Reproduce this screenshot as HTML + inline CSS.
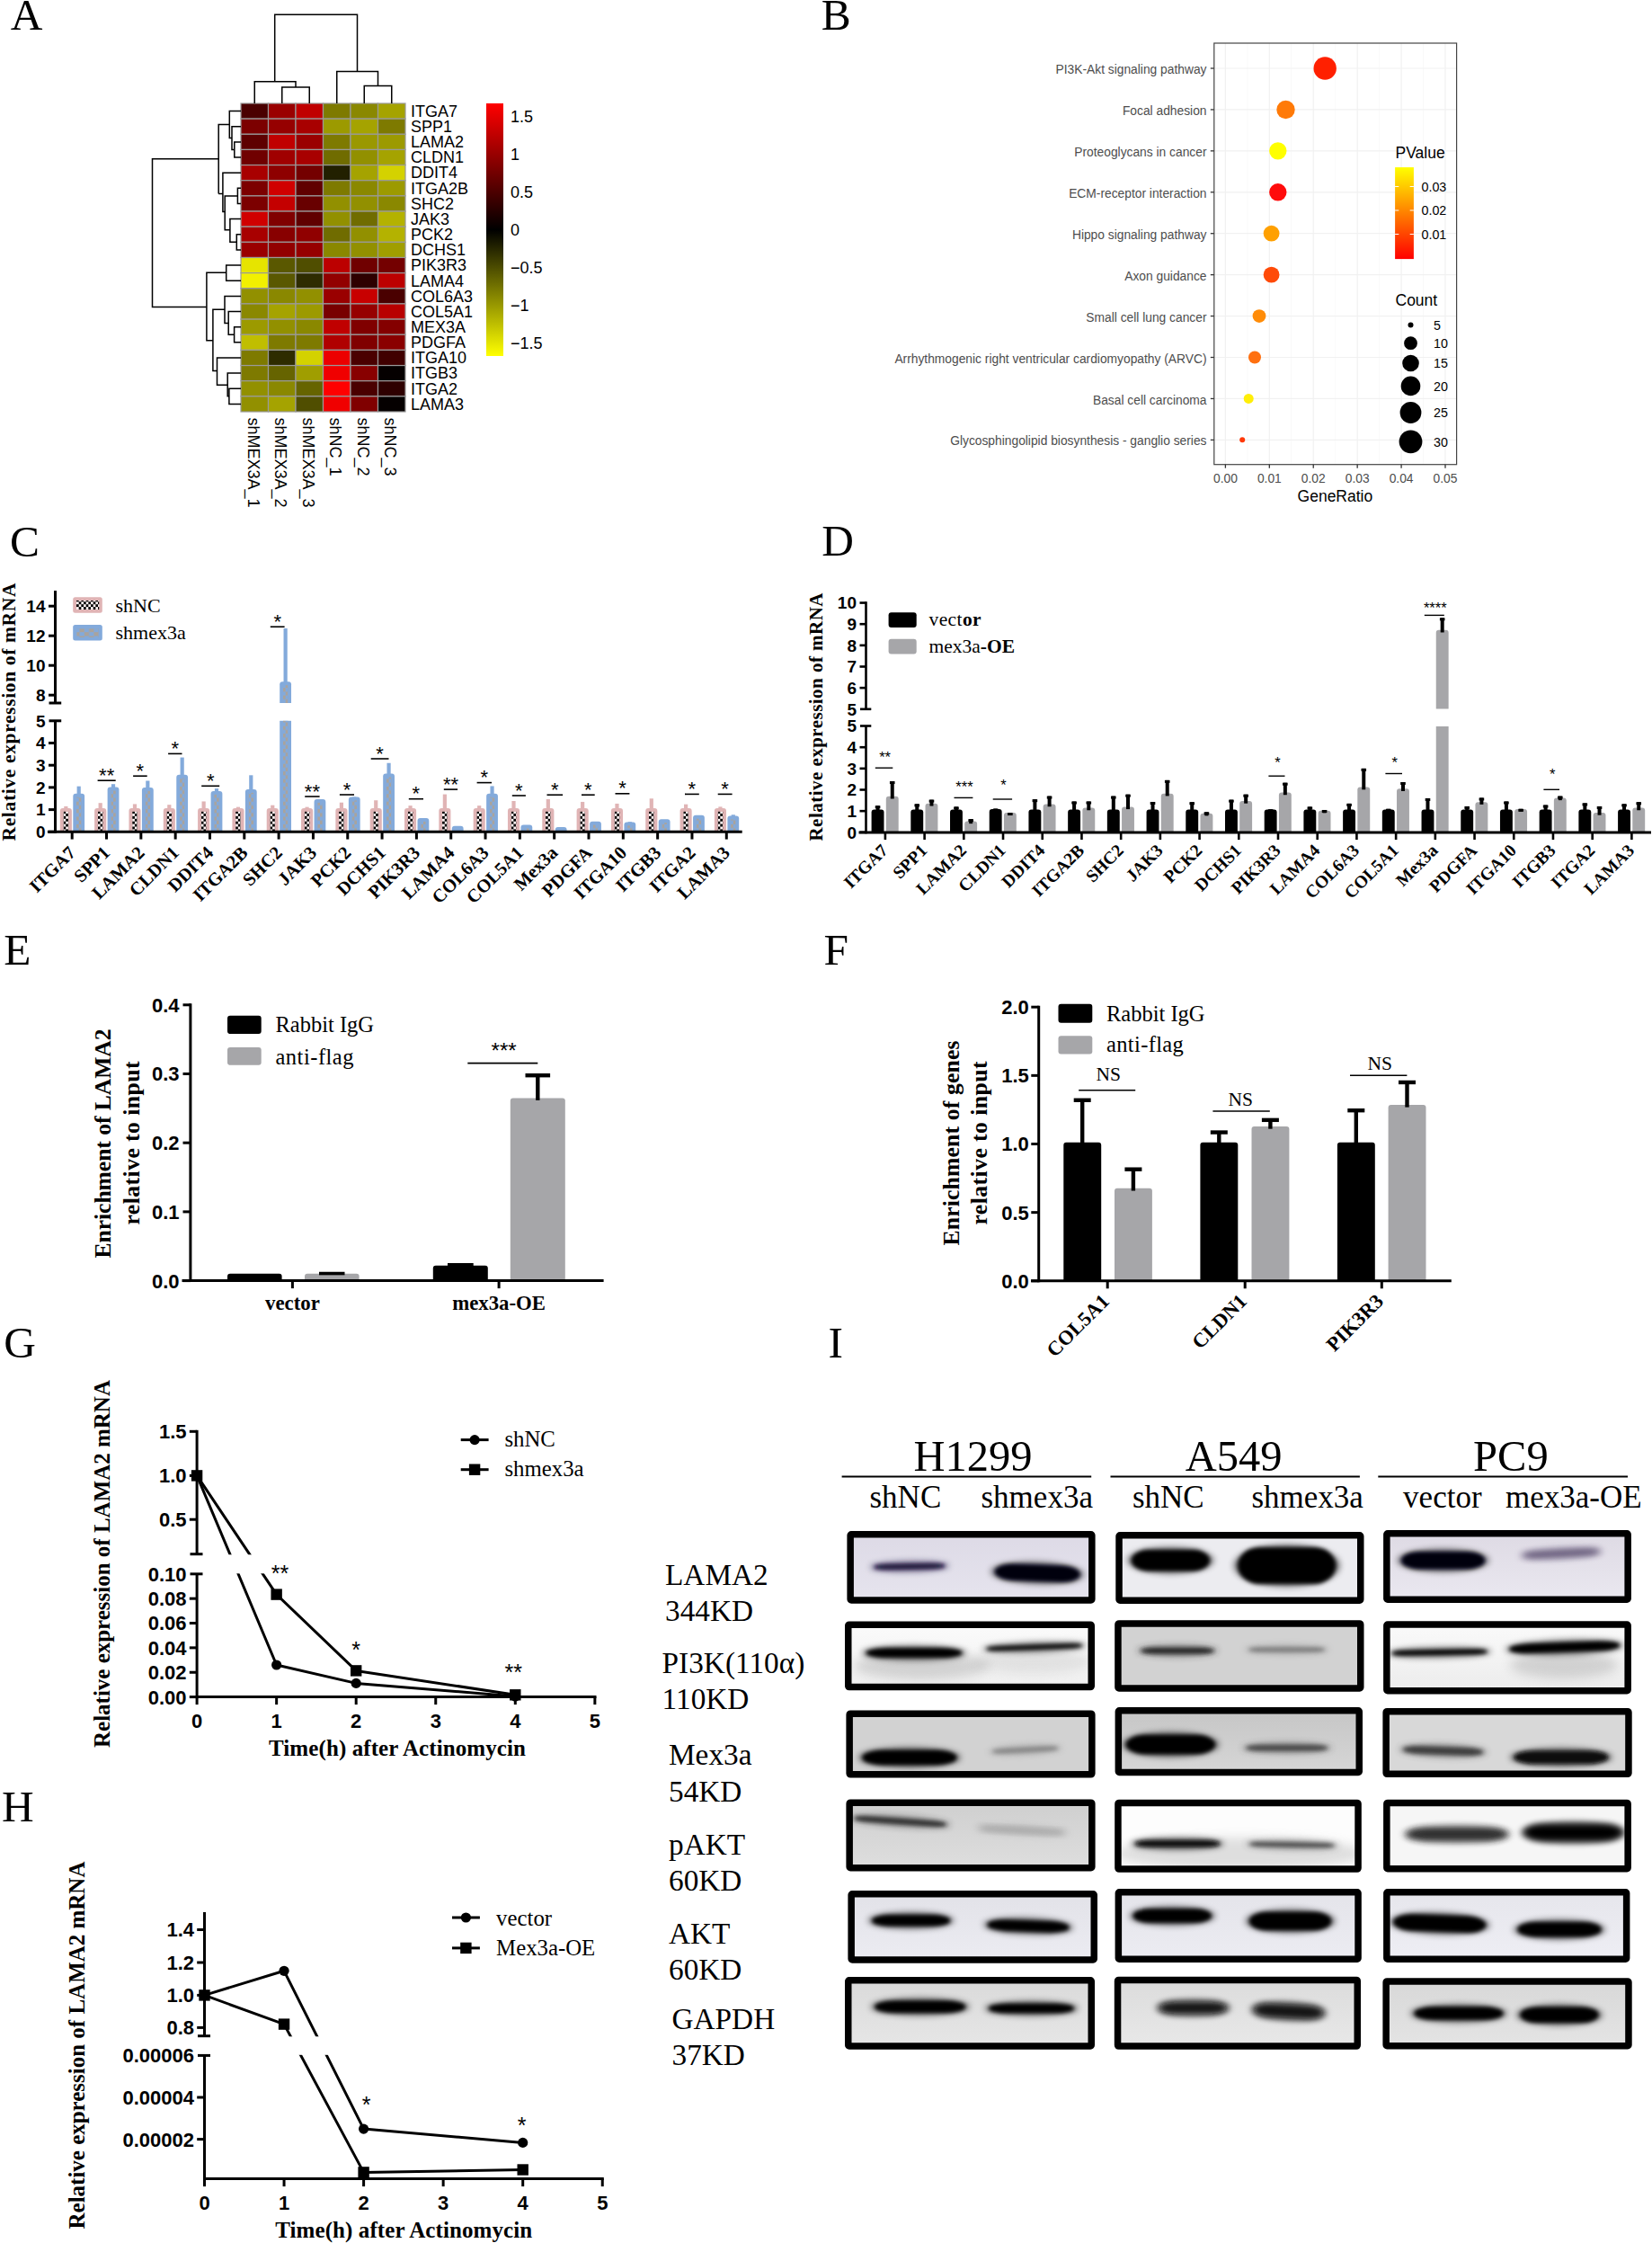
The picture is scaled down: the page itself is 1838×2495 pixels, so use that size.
<!DOCTYPE html>
<html lang="en"><head><meta charset="utf-8"><title>Figure</title>
<style>html,body{margin:0;padding:0;background:#fff}svg{display:block}.s{font-family:'Liberation Sans', sans-serif}.r{font-family:'Liberation Serif', serif}.b{font-weight:bold}</style></head>
<body>
<svg width="1838" height="2495" viewBox="0 0 1838 2495">
<defs>
<linearGradient id="gA" x1="0" y1="0" x2="0" y2="1"><stop offset="0" stop-color="#ff0000"/><stop offset="0.5" stop-color="#000"/><stop offset="1" stop-color="#ffff00"/></linearGradient>
<linearGradient id="gB" x1="0" y1="0" x2="0" y2="1"><stop offset="0" stop-color="#ffff00"/><stop offset="1" stop-color="#ff0000"/></linearGradient>
<pattern id="pk" width="5.34" height="5.8" patternUnits="userSpaceOnUse"><rect width="5.34" height="5.8" fill="#fff4f4"/><rect width="2.67" height="2.9" fill="#000"/><rect x="2.67" y="2.9" width="2.67" height="2.9" fill="#000"/></pattern>
<pattern id="bl" width="5.5" height="8.4" patternUnits="userSpaceOnUse"><rect width="5.5" height="8.4" fill="#83aadb"/><rect width="2.75" height="4.2" fill="#a9a39d"/><rect x="2.75" y="4.2" width="2.75" height="4.2" fill="#a9a39d"/></pattern>
<pattern id="bl2" width="10.6" height="8.4" patternUnits="userSpaceOnUse"><rect width="10.6" height="8.4" fill="#83aadb"/><rect width="5.3" height="4.2" fill="#a9a39d"/><rect x="5.3" y="4.2" width="5.3" height="4.2" fill="#a9a39d"/></pattern>
<filter id="gb1" x="-30%" y="-100%" width="160%" height="300%"><feGaussianBlur stdDeviation="1.3"/></filter>
<filter id="gb2" x="-30%" y="-100%" width="160%" height="300%"><feGaussianBlur stdDeviation="2.0"/></filter>
<filter id="gb3" x="-30%" y="-100%" width="160%" height="300%"><feGaussianBlur stdDeviation="3.6"/></filter>
<filter id="gb4" x="-30%" y="-100%" width="160%" height="300%"><feGaussianBlur stdDeviation="6"/></filter>
<clipPath id="cb1"><rect x="946.15" y="1706.75" width="268.7" height="73.2"/></clipPath>
<linearGradient id="lb1" x1="0" y1="0" x2="0" y2="1"><stop offset="0" stop-color="#dddae6"/><stop offset="1" stop-color="#e6e4ee"/></linearGradient>
<clipPath id="cb2"><rect x="943.75" y="1807.15" width="270.5" height="69.4"/></clipPath>
<linearGradient id="lb2" x1="0" y1="0" x2="0" y2="1"><stop offset="0" stop-color="#fbfbfb"/><stop offset="1" stop-color="#efefef"/></linearGradient>
<clipPath id="cb3"><rect x="945.15" y="1906.15" width="269.7" height="67.7"/></clipPath>
<clipPath id="cb4"><rect x="945.15" y="2005.15" width="269.7" height="72.5"/></clipPath>
<linearGradient id="lb4" x1="0" y1="0" x2="0" y2="1"><stop offset="0" stop-color="#cfcfcf"/><stop offset="1" stop-color="#dedede"/></linearGradient>
<clipPath id="cb5"><rect x="947.15" y="2106.75" width="270.1" height="73.2"/></clipPath>
<linearGradient id="lb5" x1="0" y1="0" x2="0" y2="1"><stop offset="0" stop-color="#e2e2e8"/><stop offset="1" stop-color="#ececf2"/></linearGradient>
<clipPath id="cb6"><rect x="943.75" y="2202.75" width="270.5" height="73.2"/></clipPath>
<linearGradient id="lb6" x1="0" y1="0" x2="0" y2="1"><stop offset="0" stop-color="#dadada"/><stop offset="1" stop-color="#e6e6e6"/></linearGradient>
<clipPath id="cb7"><rect x="1245.05" y="1707.75" width="268.7" height="72.5"/></clipPath>
<clipPath id="cb8"><rect x="1243.95" y="1805.95" width="269.8" height="72"/></clipPath>
<clipPath id="cb9"><rect x="1244.35" y="1902.75" width="267.9" height="68.7"/></clipPath>
<linearGradient id="lb9" x1="0" y1="0" x2="0" y2="1"><stop offset="0" stop-color="#c6c6c6"/><stop offset="1" stop-color="#d6d6d6"/></linearGradient>
<clipPath id="cb10"><rect x="1243.95" y="2005.45" width="267.1" height="73.6"/></clipPath>
<clipPath id="cb11"><rect x="1244.35" y="2104.75" width="266.7" height="74.4"/></clipPath>
<linearGradient id="lb11" x1="0" y1="0" x2="0" y2="1"><stop offset="0" stop-color="#e4e4ea"/><stop offset="1" stop-color="#ececf2"/></linearGradient>
<clipPath id="cb12"><rect x="1243.55" y="2202.45" width="266.7" height="73.6"/></clipPath>
<linearGradient id="lb12" x1="0" y1="0" x2="0" y2="1"><stop offset="0" stop-color="#dcdcdc"/><stop offset="1" stop-color="#e8e8e8"/></linearGradient>
<clipPath id="cb13"><rect x="1542.85" y="1705.85" width="268.3" height="73.3"/></clipPath>
<linearGradient id="lb13" x1="0" y1="0" x2="0" y2="1"><stop offset="0" stop-color="#dedae4"/><stop offset="1" stop-color="#eae8f0"/></linearGradient>
<clipPath id="cb14"><rect x="1542.85" y="1807.05" width="268.3" height="73.6"/></clipPath>
<linearGradient id="lb14" x1="0" y1="0" x2="0" y2="1"><stop offset="0" stop-color="#fafafa"/><stop offset="1" stop-color="#ececec"/></linearGradient>
<clipPath id="cb15"><rect x="1542.15" y="1903.65" width="269.8" height="69.7"/></clipPath>
<clipPath id="cb16"><rect x="1542.85" y="2005.45" width="268.3" height="73.2"/></clipPath>
<clipPath id="cb17"><rect x="1542.85" y="2104.75" width="266.8" height="74.4"/></clipPath>
<linearGradient id="lb17" x1="0" y1="0" x2="0" y2="1"><stop offset="0" stop-color="#e6e6ec"/><stop offset="1" stop-color="#eeeef4"/></linearGradient>
<clipPath id="cb18"><rect x="1542.15" y="2203.95" width="269.8" height="71.7"/></clipPath>
<linearGradient id="lb18" x1="0" y1="0" x2="0" y2="1"><stop offset="0" stop-color="#d8d8d8"/><stop offset="1" stop-color="#e4e4e4"/></linearGradient>
</defs>
<rect width="1838" height="2495" fill="#fff"/>
<text class="r" x="11.7" y="33" font-size="49.4">A</text>
<text class="r" x="913.7" y="33.3" font-size="49.4">B</text>
<text class="r" x="10.9" y="618.7" font-size="49.4">C</text>
<text class="r" x="914.2" y="617.9" font-size="49.4">D</text>
<text class="r" x="4.2" y="1072.6" font-size="49.4">E</text>
<text class="r" x="916.4" y="1072.6" font-size="49.4">F</text>
<text class="r" x="4.2" y="1510.1" font-size="49.4">G</text>
<text class="r" x="921.6" y="1510" font-size="49.4">I</text>
<text class="r" x="1.9" y="2025.7" font-size="49.4">H</text>
<g stroke="#9a9a9a" stroke-width="1.2">
<rect x="268" y="115" width="30.5" height="17.15" fill="#4a0000"/>
<rect x="298.5" y="115" width="30.5" height="17.15" fill="#9a0000"/>
<rect x="329" y="115" width="30.5" height="17.15" fill="#c00000"/>
<rect x="359.5" y="115" width="30.5" height="17.15" fill="#7e7a00"/>
<rect x="390" y="115" width="30.5" height="17.15" fill="#8a8800"/>
<rect x="420.5" y="115" width="30.5" height="17.15" fill="#a5a300"/>
<rect x="268" y="132.15" width="30.5" height="17.15" fill="#7c0000"/>
<rect x="298.5" y="132.15" width="30.5" height="17.15" fill="#960000"/>
<rect x="329" y="132.15" width="30.5" height="17.15" fill="#a80000"/>
<rect x="359.5" y="132.15" width="30.5" height="17.15" fill="#9c9a00"/>
<rect x="390" y="132.15" width="30.5" height="17.15" fill="#a5a300"/>
<rect x="420.5" y="132.15" width="30.5" height="17.15" fill="#7e7a00"/>
<rect x="268" y="149.3" width="30.5" height="17.15" fill="#5e0000"/>
<rect x="298.5" y="149.3" width="30.5" height="17.15" fill="#c00000"/>
<rect x="329" y="149.3" width="30.5" height="17.15" fill="#9a0000"/>
<rect x="359.5" y="149.3" width="30.5" height="17.15" fill="#7e7a00"/>
<rect x="390" y="149.3" width="30.5" height="17.15" fill="#9a9800"/>
<rect x="420.5" y="149.3" width="30.5" height="17.15" fill="#9c9a00"/>
<rect x="268" y="166.45" width="30.5" height="17.15" fill="#700000"/>
<rect x="298.5" y="166.45" width="30.5" height="17.15" fill="#a00000"/>
<rect x="329" y="166.45" width="30.5" height="17.15" fill="#a80000"/>
<rect x="359.5" y="166.45" width="30.5" height="17.15" fill="#706c00"/>
<rect x="390" y="166.45" width="30.5" height="17.15" fill="#929000"/>
<rect x="420.5" y="166.45" width="30.5" height="17.15" fill="#a5a300"/>
<rect x="268" y="183.6" width="30.5" height="17.15" fill="#a80000"/>
<rect x="298.5" y="183.6" width="30.5" height="17.15" fill="#8e0000"/>
<rect x="329" y="183.6" width="30.5" height="17.15" fill="#740000"/>
<rect x="359.5" y="183.6" width="30.5" height="17.15" fill="#222000"/>
<rect x="390" y="183.6" width="30.5" height="17.15" fill="#a5a300"/>
<rect x="420.5" y="183.6" width="30.5" height="17.15" fill="#d4d200"/>
<rect x="268" y="200.75" width="30.5" height="17.15" fill="#7c0000"/>
<rect x="298.5" y="200.75" width="30.5" height="17.15" fill="#d00000"/>
<rect x="329" y="200.75" width="30.5" height="17.15" fill="#600000"/>
<rect x="359.5" y="200.75" width="30.5" height="17.15" fill="#7e7a00"/>
<rect x="390" y="200.75" width="30.5" height="17.15" fill="#8a8800"/>
<rect x="420.5" y="200.75" width="30.5" height="17.15" fill="#9c9a00"/>
<rect x="268" y="217.9" width="30.5" height="17.15" fill="#7c0000"/>
<rect x="298.5" y="217.9" width="30.5" height="17.15" fill="#c40000"/>
<rect x="329" y="217.9" width="30.5" height="17.15" fill="#680000"/>
<rect x="359.5" y="217.9" width="30.5" height="17.15" fill="#929000"/>
<rect x="390" y="217.9" width="30.5" height="17.15" fill="#929000"/>
<rect x="420.5" y="217.9" width="30.5" height="17.15" fill="#8a8800"/>
<rect x="268" y="235.05" width="30.5" height="17.15" fill="#d00000"/>
<rect x="298.5" y="235.05" width="30.5" height="17.15" fill="#800000"/>
<rect x="329" y="235.05" width="30.5" height="17.15" fill="#600000"/>
<rect x="359.5" y="235.05" width="30.5" height="17.15" fill="#929000"/>
<rect x="390" y="235.05" width="30.5" height="17.15" fill="#706c00"/>
<rect x="420.5" y="235.05" width="30.5" height="17.15" fill="#b4b200"/>
<rect x="268" y="252.2" width="30.5" height="17.15" fill="#a80000"/>
<rect x="298.5" y="252.2" width="30.5" height="17.15" fill="#880000"/>
<rect x="329" y="252.2" width="30.5" height="17.15" fill="#900000"/>
<rect x="359.5" y="252.2" width="30.5" height="17.15" fill="#706c00"/>
<rect x="390" y="252.2" width="30.5" height="17.15" fill="#929000"/>
<rect x="420.5" y="252.2" width="30.5" height="17.15" fill="#b4b200"/>
<rect x="268" y="269.35" width="30.5" height="17.15" fill="#9a0000"/>
<rect x="298.5" y="269.35" width="30.5" height="17.15" fill="#920000"/>
<rect x="329" y="269.35" width="30.5" height="17.15" fill="#960000"/>
<rect x="359.5" y="269.35" width="30.5" height="17.15" fill="#8a8800"/>
<rect x="390" y="269.35" width="30.5" height="17.15" fill="#929000"/>
<rect x="420.5" y="269.35" width="30.5" height="17.15" fill="#a09e00"/>
<rect x="268" y="286.5" width="30.5" height="17.15" fill="#e6e400"/>
<rect x="298.5" y="286.5" width="30.5" height="17.15" fill="#5a5800"/>
<rect x="329" y="286.5" width="30.5" height="17.15" fill="#504e00"/>
<rect x="359.5" y="286.5" width="30.5" height="17.15" fill="#bc0000"/>
<rect x="390" y="286.5" width="30.5" height="17.15" fill="#700000"/>
<rect x="420.5" y="286.5" width="30.5" height="17.15" fill="#740000"/>
<rect x="268" y="303.65" width="30.5" height="17.15" fill="#f2f000"/>
<rect x="298.5" y="303.65" width="30.5" height="17.15" fill="#5a5800"/>
<rect x="329" y="303.65" width="30.5" height="17.15" fill="#2e2c00"/>
<rect x="359.5" y="303.65" width="30.5" height="17.15" fill="#920000"/>
<rect x="390" y="303.65" width="30.5" height="17.15" fill="#2e0000"/>
<rect x="420.5" y="303.65" width="30.5" height="17.15" fill="#bc0000"/>
<rect x="268" y="320.8" width="30.5" height="17.15" fill="#929000"/>
<rect x="298.5" y="320.8" width="30.5" height="17.15" fill="#8a8800"/>
<rect x="329" y="320.8" width="30.5" height="17.15" fill="#929000"/>
<rect x="359.5" y="320.8" width="30.5" height="17.15" fill="#9a0000"/>
<rect x="390" y="320.8" width="30.5" height="17.15" fill="#c80000"/>
<rect x="420.5" y="320.8" width="30.5" height="17.15" fill="#4a0000"/>
<rect x="268" y="337.95" width="30.5" height="17.15" fill="#8a8800"/>
<rect x="298.5" y="337.95" width="30.5" height="17.15" fill="#a5a300"/>
<rect x="329" y="337.95" width="30.5" height="17.15" fill="#9c9a00"/>
<rect x="359.5" y="337.95" width="30.5" height="17.15" fill="#780000"/>
<rect x="390" y="337.95" width="30.5" height="17.15" fill="#960000"/>
<rect x="420.5" y="337.95" width="30.5" height="17.15" fill="#b80000"/>
<rect x="268" y="355.1" width="30.5" height="17.15" fill="#9c9a00"/>
<rect x="298.5" y="355.1" width="30.5" height="17.15" fill="#929000"/>
<rect x="329" y="355.1" width="30.5" height="17.15" fill="#8a8800"/>
<rect x="359.5" y="355.1" width="30.5" height="17.15" fill="#c00000"/>
<rect x="390" y="355.1" width="30.5" height="17.15" fill="#800000"/>
<rect x="420.5" y="355.1" width="30.5" height="17.15" fill="#840000"/>
<rect x="268" y="372.25" width="30.5" height="17.15" fill="#c0be00"/>
<rect x="298.5" y="372.25" width="30.5" height="17.15" fill="#7e7a00"/>
<rect x="329" y="372.25" width="30.5" height="17.15" fill="#7e7a00"/>
<rect x="359.5" y="372.25" width="30.5" height="17.15" fill="#b00000"/>
<rect x="390" y="372.25" width="30.5" height="17.15" fill="#800000"/>
<rect x="420.5" y="372.25" width="30.5" height="17.15" fill="#8a0000"/>
<rect x="268" y="389.4" width="30.5" height="17.15" fill="#7e7a00"/>
<rect x="298.5" y="389.4" width="30.5" height="17.15" fill="#2e2c00"/>
<rect x="329" y="389.4" width="30.5" height="17.15" fill="#d4d200"/>
<rect x="359.5" y="389.4" width="30.5" height="17.15" fill="#ec0000"/>
<rect x="390" y="389.4" width="30.5" height="17.15" fill="#4a0000"/>
<rect x="420.5" y="389.4" width="30.5" height="17.15" fill="#400000"/>
<rect x="268" y="406.55" width="30.5" height="17.15" fill="#7e7a00"/>
<rect x="298.5" y="406.55" width="30.5" height="17.15" fill="#666400"/>
<rect x="329" y="406.55" width="30.5" height="17.15" fill="#a09e00"/>
<rect x="359.5" y="406.55" width="30.5" height="17.15" fill="#f00000"/>
<rect x="390" y="406.55" width="30.5" height="17.15" fill="#880000"/>
<rect x="420.5" y="406.55" width="30.5" height="17.15" fill="#050000"/>
<rect x="268" y="423.7" width="30.5" height="17.15" fill="#929000"/>
<rect x="298.5" y="423.7" width="30.5" height="17.15" fill="#8a8800"/>
<rect x="329" y="423.7" width="30.5" height="17.15" fill="#666400"/>
<rect x="359.5" y="423.7" width="30.5" height="17.15" fill="#ff0000"/>
<rect x="390" y="423.7" width="30.5" height="17.15" fill="#4a0000"/>
<rect x="420.5" y="423.7" width="30.5" height="17.15" fill="#2e0000"/>
<rect x="268" y="440.85" width="30.5" height="17.15" fill="#929000"/>
<rect x="298.5" y="440.85" width="30.5" height="17.15" fill="#a5a300"/>
<rect x="329" y="440.85" width="30.5" height="17.15" fill="#504e00"/>
<rect x="359.5" y="440.85" width="30.5" height="17.15" fill="#f00000"/>
<rect x="390" y="440.85" width="30.5" height="17.15" fill="#800000"/>
<rect x="420.5" y="440.85" width="30.5" height="17.15" fill="#050000"/>
</g>
<text class="s" x="457.1" y="129.88" font-size="18">ITGA7</text>
<text class="s" x="457.1" y="147.03" font-size="18">SPP1</text>
<text class="s" x="457.1" y="164.18" font-size="18">LAMA2</text>
<text class="s" x="457.1" y="181.32" font-size="18">CLDN1</text>
<text class="s" x="457.1" y="198.48" font-size="18">DDIT4</text>
<text class="s" x="457.1" y="215.62" font-size="18">ITGA2B</text>
<text class="s" x="457.1" y="232.78" font-size="18">SHC2</text>
<text class="s" x="457.1" y="249.93" font-size="18">JAK3</text>
<text class="s" x="457.1" y="267.07" font-size="18">PCK2</text>
<text class="s" x="457.1" y="284.22" font-size="18">DCHS1</text>
<text class="s" x="457.1" y="301.38" font-size="18">PIK3R3</text>
<text class="s" x="457.1" y="318.53" font-size="18">LAMA4</text>
<text class="s" x="457.1" y="335.68" font-size="18">COL6A3</text>
<text class="s" x="457.1" y="352.82" font-size="18">COL5A1</text>
<text class="s" x="457.1" y="369.97" font-size="18">MEX3A</text>
<text class="s" x="457.1" y="387.12" font-size="18">PDGFA</text>
<text class="s" x="457.1" y="404.27" font-size="18">ITGA10</text>
<text class="s" x="457.1" y="421.43" font-size="18">ITGB3</text>
<text class="s" x="457.1" y="438.57" font-size="18">ITGA2</text>
<text class="s" x="457.1" y="455.72" font-size="18">LAMA3</text>
<text class="s" x="275.75" y="464.5" font-size="18" transform="rotate(90 275.75 464.5)">shMEX3A_1</text>
<text class="s" x="306.25" y="464.5" font-size="18" transform="rotate(90 306.25 464.5)">shMEX3A_2</text>
<text class="s" x="336.75" y="464.5" font-size="18" transform="rotate(90 336.75 464.5)">shMEX3A_3</text>
<text class="s" x="367.25" y="464.5" font-size="18" transform="rotate(90 367.25 464.5)">shNC_1</text>
<text class="s" x="397.75" y="464.5" font-size="18" transform="rotate(90 397.75 464.5)">shNC_2</text>
<text class="s" x="428.25" y="464.5" font-size="18" transform="rotate(90 428.25 464.5)">shNC_3</text>
<path d="M313.75 115V97H344.25V115" fill="none" stroke="#000" stroke-width="1.5"/>
<path d="M283.25 115V90.7H329V97" fill="none" stroke="#000" stroke-width="1.5"/>
<path d="M405.25 115V95.5H435.75V115" fill="none" stroke="#000" stroke-width="1.5"/>
<path d="M374.75 115V79.4H420.5V95.5" fill="none" stroke="#000" stroke-width="1.5"/>
<path d="M305.7 90.7V16.3H397.5V79.4" fill="none" stroke="#000" stroke-width="1.5"/>
<path d="M268 157.88H260.8V175.02H268" fill="none" stroke="#000" stroke-width="1.5"/>
<path d="M268 140.72H258V166.4H260.8" fill="none" stroke="#000" stroke-width="1.5"/>
<path d="M268 123.58H255.3V153.5H258" fill="none" stroke="#000" stroke-width="1.5"/>
<path d="M255.3 138.6H243.2V215.5" fill="none" stroke="#000" stroke-width="1.5"/>
<path d="M268 209.32H264.4V226.47H268" fill="none" stroke="#000" stroke-width="1.5"/>
<path d="M268 260.77H263.3V277.92H268" fill="none" stroke="#000" stroke-width="1.5"/>
<path d="M268 243.62H255.9V269.3H263.3" fill="none" stroke="#000" stroke-width="1.5"/>
<path d="M264.4 217.9H250.2V255.7H255.9" fill="none" stroke="#000" stroke-width="1.5"/>
<path d="M268 192.18H247.9V235.6H250.2" fill="none" stroke="#000" stroke-width="1.5"/>
<path d="M247.9 215.5H243.2" fill="none" stroke="#000" stroke-width="1.5"/>
<path d="M243.2 176.7H169.5V341.4H229.9" fill="none" stroke="#000" stroke-width="1.5"/>
<path d="M268 295.07H251.7V312.23H268" fill="none" stroke="#000" stroke-width="1.5"/>
<path d="M251.7 303.3H229.9V378.7H236.9" fill="none" stroke="#000" stroke-width="1.5"/>
<path d="M268 363.67H260.6V380.82H268" fill="none" stroke="#000" stroke-width="1.5"/>
<path d="M268 346.52H254.2V372.2H260.6" fill="none" stroke="#000" stroke-width="1.5"/>
<path d="M268 329.38H250V359.4H254.2" fill="none" stroke="#000" stroke-width="1.5"/>
<path d="M250 344.2H236.9V412.4H241.5" fill="none" stroke="#000" stroke-width="1.5"/>
<path d="M268 432.27H254.9V449.42H268" fill="none" stroke="#000" stroke-width="1.5"/>
<path d="M268 415.12H253.2V440.8H254.9" fill="none" stroke="#000" stroke-width="1.5"/>
<path d="M268 397.97H241.5V428.3H253.2" fill="none" stroke="#000" stroke-width="1.5"/>
<rect x="541" y="115" width="19" height="281" fill="url(#gA)"/>
<text class="s" x="568" y="136.45" font-size="18">1.5</text>
<text class="s" x="568" y="178.3" font-size="18">1</text>
<text class="s" x="568" y="220.15" font-size="18">0.5</text>
<text class="s" x="568" y="262" font-size="18">0</text>
<text class="s" x="568" y="303.85" font-size="18">−0.5</text>
<text class="s" x="568" y="345.7" font-size="18">−1</text>
<text class="s" x="568" y="387.55" font-size="18">−1.5</text>
<g stroke="#f8f8f8" stroke-width="0.8">
<line x1="1387.86" y1="48" x2="1387.86" y2="516.7"/>
<line x1="1436.78" y1="48" x2="1436.78" y2="516.7"/>
<line x1="1485.7" y1="48" x2="1485.7" y2="516.7"/>
<line x1="1534.62" y1="48" x2="1534.62" y2="516.7"/>
<line x1="1583.54" y1="48" x2="1583.54" y2="516.7"/>
</g><g stroke="#f1f1f1" stroke-width="1.2">
<line x1="1363.4" y1="48" x2="1363.4" y2="516.7"/>
<line x1="1412.32" y1="48" x2="1412.32" y2="516.7"/>
<line x1="1461.24" y1="48" x2="1461.24" y2="516.7"/>
<line x1="1510.16" y1="48" x2="1510.16" y2="516.7"/>
<line x1="1559.08" y1="48" x2="1559.08" y2="516.7"/>
<line x1="1608" y1="48" x2="1608" y2="516.7"/>
<line x1="1350.8" y1="76" x2="1620.6" y2="76"/>
<line x1="1350.8" y1="121.93" x2="1620.6" y2="121.93"/>
<line x1="1350.8" y1="167.86" x2="1620.6" y2="167.86"/>
<line x1="1350.8" y1="213.79" x2="1620.6" y2="213.79"/>
<line x1="1350.8" y1="259.72" x2="1620.6" y2="259.72"/>
<line x1="1350.8" y1="305.65" x2="1620.6" y2="305.65"/>
<line x1="1350.8" y1="351.58" x2="1620.6" y2="351.58"/>
<line x1="1350.8" y1="397.51" x2="1620.6" y2="397.51"/>
<line x1="1350.8" y1="443.44" x2="1620.6" y2="443.44"/>
<line x1="1350.8" y1="489.37" x2="1620.6" y2="489.37"/>
</g>
<rect x="1350.8" y="48" width="269.8" height="468.7" fill="none" stroke="#444" stroke-width="1.2"/>
<line x1="1346.8" y1="76" x2="1350.8" y2="76" stroke="#333" stroke-width="1.3"/>
<text class="s" x="1342.5" y="82.1" font-size="13.8" text-anchor="end" fill="#4d4d4d">PI3K-Akt signaling pathway</text>
<circle cx="1474.2" cy="76" r="12.7" fill="#ff2000"/>
<line x1="1346.8" y1="121.93" x2="1350.8" y2="121.93" stroke="#333" stroke-width="1.3"/>
<text class="s" x="1342.5" y="128.03" font-size="13.8" text-anchor="end" fill="#4d4d4d">Focal adhesion</text>
<circle cx="1430.5" cy="121.93" r="10.2" fill="#ff7a08"/>
<line x1="1346.8" y1="167.86" x2="1350.8" y2="167.86" stroke="#333" stroke-width="1.3"/>
<text class="s" x="1342.5" y="173.96" font-size="13.8" text-anchor="end" fill="#4d4d4d">Proteoglycans in cancer</text>
<circle cx="1421.8" cy="167.86" r="9.7" fill="#ffff00"/>
<line x1="1346.8" y1="213.79" x2="1350.8" y2="213.79" stroke="#333" stroke-width="1.3"/>
<text class="s" x="1342.5" y="219.89" font-size="13.8" text-anchor="end" fill="#4d4d4d">ECM-receptor interaction</text>
<circle cx="1421.8" cy="213.79" r="9.7" fill="#ff0c0c"/>
<line x1="1346.8" y1="259.72" x2="1350.8" y2="259.72" stroke="#333" stroke-width="1.3"/>
<text class="s" x="1342.5" y="265.82" font-size="13.8" text-anchor="end" fill="#4d4d4d">Hippo signaling pathway</text>
<circle cx="1414.6" cy="259.72" r="8.9" fill="#ffa000"/>
<line x1="1346.8" y1="305.65" x2="1350.8" y2="305.65" stroke="#333" stroke-width="1.3"/>
<text class="s" x="1342.5" y="311.75" font-size="13.8" text-anchor="end" fill="#4d4d4d">Axon guidance</text>
<circle cx="1414.6" cy="305.65" r="8.9" fill="#ff4a08"/>
<line x1="1346.8" y1="351.58" x2="1350.8" y2="351.58" stroke="#333" stroke-width="1.3"/>
<text class="s" x="1342.5" y="357.68" font-size="13.8" text-anchor="end" fill="#4d4d4d">Small cell lung cancer</text>
<circle cx="1401" cy="351.58" r="7.4" fill="#ff8c08"/>
<line x1="1346.8" y1="397.51" x2="1350.8" y2="397.51" stroke="#333" stroke-width="1.3"/>
<text class="s" x="1342.5" y="403.61" font-size="13.8" text-anchor="end" fill="#4d4d4d">Arrhythmogenic right ventricular cardiomyopathy (ARVC)</text>
<circle cx="1396" cy="397.51" r="7" fill="#ff7010"/>
<line x1="1346.8" y1="443.44" x2="1350.8" y2="443.44" stroke="#333" stroke-width="1.3"/>
<text class="s" x="1342.5" y="449.54" font-size="13.8" text-anchor="end" fill="#4d4d4d">Basal cell carcinoma</text>
<circle cx="1389.2" cy="443.44" r="5.5" fill="#ffee08"/>
<line x1="1346.8" y1="489.37" x2="1350.8" y2="489.37" stroke="#333" stroke-width="1.3"/>
<text class="s" x="1342.5" y="495.47" font-size="13.8" text-anchor="end" fill="#4d4d4d">Glycosphingolipid biosynthesis - ganglio series</text>
<circle cx="1382.2" cy="489.37" r="3" fill="#ff3808"/>
<line x1="1363.4" y1="516.7" x2="1363.4" y2="520.7" stroke="#333" stroke-width="1.3"/>
<text class="s" x="1363.4" y="537.3" font-size="13.8" text-anchor="middle" fill="#4d4d4d">0.00</text>
<line x1="1412.32" y1="516.7" x2="1412.32" y2="520.7" stroke="#333" stroke-width="1.3"/>
<text class="s" x="1412.32" y="537.3" font-size="13.8" text-anchor="middle" fill="#4d4d4d">0.01</text>
<line x1="1461.24" y1="516.7" x2="1461.24" y2="520.7" stroke="#333" stroke-width="1.3"/>
<text class="s" x="1461.24" y="537.3" font-size="13.8" text-anchor="middle" fill="#4d4d4d">0.02</text>
<line x1="1510.16" y1="516.7" x2="1510.16" y2="520.7" stroke="#333" stroke-width="1.3"/>
<text class="s" x="1510.16" y="537.3" font-size="13.8" text-anchor="middle" fill="#4d4d4d">0.03</text>
<line x1="1559.08" y1="516.7" x2="1559.08" y2="520.7" stroke="#333" stroke-width="1.3"/>
<text class="s" x="1559.08" y="537.3" font-size="13.8" text-anchor="middle" fill="#4d4d4d">0.04</text>
<line x1="1608" y1="516.7" x2="1608" y2="520.7" stroke="#333" stroke-width="1.3"/>
<text class="s" x="1608" y="537.3" font-size="13.8" text-anchor="middle" fill="#4d4d4d">0.05</text>
<text class="s" x="1485.4" y="558" font-size="17.5" text-anchor="middle">GeneRatio</text>
<text class="s" x="1552.5" y="175.8" font-size="17.5">PValue</text>
<rect x="1552.1" y="186.1" width="20.8" height="102" fill="url(#gB)"/>
<line x1="1552.1" y1="207.5" x2="1556.3" y2="207.5" stroke="#fff" stroke-width="1"/>
<line x1="1568.7" y1="207.5" x2="1572.9" y2="207.5" stroke="#fff" stroke-width="1"/>
<text class="s" x="1581.5" y="212.7" font-size="14.3">0.03</text>
<line x1="1552.1" y1="234" x2="1556.3" y2="234" stroke="#fff" stroke-width="1"/>
<line x1="1568.7" y1="234" x2="1572.9" y2="234" stroke="#fff" stroke-width="1"/>
<text class="s" x="1581.5" y="239.2" font-size="14.3">0.02</text>
<line x1="1552.1" y1="260.5" x2="1556.3" y2="260.5" stroke="#fff" stroke-width="1"/>
<line x1="1568.7" y1="260.5" x2="1572.9" y2="260.5" stroke="#fff" stroke-width="1"/>
<text class="s" x="1581.5" y="265.7" font-size="14.3">0.01</text>
<text class="s" x="1552.5" y="340.4" font-size="17.5">Count</text>
<circle cx="1569.5" cy="361.4" r="3" fill="#000"/>
<text class="s" x="1595" y="366.6" font-size="14.3">5</text>
<circle cx="1569.5" cy="381.7" r="7.4" fill="#000"/>
<text class="s" x="1595" y="386.9" font-size="14.3">10</text>
<circle cx="1569.5" cy="404" r="9.3" fill="#000"/>
<text class="s" x="1595" y="409.2" font-size="14.3">15</text>
<circle cx="1569.5" cy="429.4" r="10.8" fill="#000"/>
<text class="s" x="1595" y="434.6" font-size="14.3">20</text>
<circle cx="1569.5" cy="459" r="11.9" fill="#000"/>
<text class="s" x="1595" y="464.2" font-size="14.3">25</text>
<circle cx="1569.5" cy="491.3" r="12.9" fill="#000"/>
<text class="s" x="1595" y="496.5" font-size="14.3">30</text>
<line x1="73.35" y1="896.89" x2="73.35" y2="902.6" stroke="#e0b4b5" stroke-width="4.2"/>
<path d="M66.8 925.3V901.9Q66.8 898.9 69.8 898.9H76.9Q79.9 898.9 79.9 901.9V925.3Z" fill="#e0b4b5"/>
<rect transform="translate(70.55 925.3)" x="0" y="-22.5" width="5.6" height="22.5" fill="url(#pk)"/>
<line x1="87.7" y1="874.66" x2="87.7" y2="886.54" stroke="#83aadb" stroke-width="4.2"/>
<path d="M81.3 925.3V885.84Q81.3 882.84 84.3 882.84H91.1Q94.1 882.84 94.1 885.84V925.3Z" fill="#83aadb"/>
<rect transform="translate(85 925.3)" x="0" y="-38.55" width="5.5" height="38.55" fill="url(#bl)"/>
<line x1="111.67" y1="893.19" x2="111.67" y2="902.6" stroke="#e0b4b5" stroke-width="4.2"/>
<path d="M105.12 925.3V901.9Q105.12 898.9 108.12 898.9H115.22Q118.22 898.9 118.22 901.9V925.3Z" fill="#e0b4b5"/>
<rect transform="translate(108.87 925.3)" x="0" y="-22.5" width="5.6" height="22.5" fill="url(#pk)"/>
<line x1="126.02" y1="872.19" x2="126.02" y2="879.13" stroke="#83aadb" stroke-width="4.2"/>
<path d="M119.62 925.3V878.43Q119.62 875.43 122.62 875.43H129.42Q132.42 875.43 132.42 878.43V925.3Z" fill="#83aadb"/>
<rect transform="translate(123.32 925.3)" x="0" y="-45.96" width="5.5" height="45.96" fill="url(#bl)"/>
<line x1="149.99" y1="894.42" x2="149.99" y2="902.6" stroke="#e0b4b5" stroke-width="4.2"/>
<path d="M143.44 925.3V901.9Q143.44 898.9 146.44 898.9H153.54Q156.54 898.9 156.54 901.9V925.3Z" fill="#e0b4b5"/>
<rect transform="translate(147.19 925.3)" x="0" y="-22.5" width="5.6" height="22.5" fill="url(#pk)"/>
<line x1="164.34" y1="868.49" x2="164.34" y2="879.63" stroke="#83aadb" stroke-width="4.2"/>
<path d="M157.94 925.3V878.93Q157.94 875.93 160.94 875.93H167.74Q170.74 875.93 170.74 878.93V925.3Z" fill="#83aadb"/>
<rect transform="translate(161.64 925.3)" x="0" y="-45.47" width="5.5" height="45.47" fill="url(#bl)"/>
<line x1="188.31" y1="895.17" x2="188.31" y2="902.6" stroke="#e0b4b5" stroke-width="4.2"/>
<path d="M181.76 925.3V901.9Q181.76 898.9 184.76 898.9H191.86Q194.86 898.9 194.86 901.9V925.3Z" fill="#e0b4b5"/>
<rect transform="translate(185.51 925.3)" x="0" y="-22.5" width="5.6" height="22.5" fill="url(#pk)"/>
<line x1="202.66" y1="842.55" x2="202.66" y2="865.55" stroke="#83aadb" stroke-width="4.2"/>
<path d="M196.26 925.3V864.85Q196.26 861.85 199.26 861.85H206.06Q209.06 861.85 209.06 864.85V925.3Z" fill="#83aadb"/>
<rect transform="translate(199.96 925.3)" x="0" y="-59.55" width="5.5" height="59.55" fill="url(#bl)"/>
<line x1="226.63" y1="891.46" x2="226.63" y2="902.6" stroke="#e0b4b5" stroke-width="4.2"/>
<path d="M220.08 925.3V901.9Q220.08 898.9 223.08 898.9H230.18Q233.18 898.9 233.18 901.9V925.3Z" fill="#e0b4b5"/>
<rect transform="translate(223.83 925.3)" x="0" y="-22.5" width="5.6" height="22.5" fill="url(#pk)"/>
<line x1="240.98" y1="877.13" x2="240.98" y2="883.58" stroke="#83aadb" stroke-width="4.2"/>
<path d="M234.58 925.3V882.88Q234.58 879.88 237.58 879.88H244.38Q247.38 879.88 247.38 882.88V925.3Z" fill="#83aadb"/>
<rect transform="translate(238.28 925.3)" x="0" y="-41.52" width="5.5" height="41.52" fill="url(#bl)"/>
<line x1="264.95" y1="897.64" x2="264.95" y2="902.6" stroke="#e0b4b5" stroke-width="4.2"/>
<path d="M258.4 925.3V901.9Q258.4 898.9 261.4 898.9H268.5Q271.5 898.9 271.5 901.9V925.3Z" fill="#e0b4b5"/>
<rect transform="translate(262.15 925.3)" x="0" y="-22.5" width="5.6" height="22.5" fill="url(#pk)"/>
<line x1="279.3" y1="862.31" x2="279.3" y2="881.6" stroke="#83aadb" stroke-width="4.2"/>
<path d="M272.9 925.3V880.9Q272.9 877.9 275.9 877.9H282.7Q285.7 877.9 285.7 880.9V925.3Z" fill="#83aadb"/>
<rect transform="translate(276.6 925.3)" x="0" y="-43.5" width="5.5" height="43.5" fill="url(#bl)"/>
<line x1="303.27" y1="895.66" x2="303.27" y2="902.6" stroke="#e0b4b5" stroke-width="4.2"/>
<path d="M296.72 925.3V901.9Q296.72 898.9 299.72 898.9H306.82Q309.82 898.9 309.82 901.9V925.3Z" fill="#e0b4b5"/>
<rect transform="translate(300.47 925.3)" x="0" y="-22.5" width="5.6" height="22.5" fill="url(#pk)"/>
<line x1="317.62" y1="698.95" x2="317.62" y2="762" stroke="#83aadb" stroke-width="4.2"/>
<rect x="311.22" y="801.8" width="12.8" height="123.5" fill="#83aadb"/>
<rect transform="translate(314.92 925.3)" x="0" y="-123.5" width="5.5" height="123.5" fill="url(#bl)"/>
<path d="M311.22 782V761.3Q311.22 758.3 314.22 758.3H321.02Q324.02 758.3 324.02 761.3V782Z" fill="#83aadb"/>
<rect transform="translate(314.92 782)" x="0" y="-19.8" width="5.5" height="19.8" fill="url(#bl)"/>
<line x1="341.59" y1="897.64" x2="341.59" y2="902.6" stroke="#e0b4b5" stroke-width="4.2"/>
<path d="M335.04 925.3V901.9Q335.04 898.9 338.04 898.9H345.14Q348.14 898.9 348.14 901.9V925.3Z" fill="#e0b4b5"/>
<rect transform="translate(338.79 925.3)" x="0" y="-22.5" width="5.6" height="22.5" fill="url(#pk)"/>
<line x1="355.94" y1="889.48" x2="355.94" y2="892.72" stroke="#83aadb" stroke-width="4.2"/>
<path d="M349.54 925.3V892.02Q349.54 889.02 352.54 889.02H359.34Q362.34 889.02 362.34 892.02V925.3Z" fill="#83aadb"/>
<rect transform="translate(353.24 925.3)" x="0" y="-32.38" width="5.5" height="32.38" fill="url(#bl)"/>
<line x1="379.91" y1="892.7" x2="379.91" y2="902.6" stroke="#e0b4b5" stroke-width="4.2"/>
<path d="M373.36 925.3V901.9Q373.36 898.9 376.36 898.9H383.46Q386.46 898.9 386.46 901.9V925.3Z" fill="#e0b4b5"/>
<rect transform="translate(377.11 925.3)" x="0" y="-22.5" width="5.6" height="22.5" fill="url(#pk)"/>
<line x1="394.26" y1="886.52" x2="394.26" y2="890.25" stroke="#83aadb" stroke-width="4.2"/>
<path d="M387.86 925.3V889.55Q387.86 886.55 390.86 886.55H397.66Q400.66 886.55 400.66 889.55V925.3Z" fill="#83aadb"/>
<rect transform="translate(391.56 925.3)" x="0" y="-34.85" width="5.5" height="34.85" fill="url(#bl)"/>
<line x1="418.23" y1="890.23" x2="418.23" y2="902.6" stroke="#e0b4b5" stroke-width="4.2"/>
<path d="M411.68 925.3V901.9Q411.68 898.9 414.68 898.9H421.78Q424.78 898.9 424.78 901.9V925.3Z" fill="#e0b4b5"/>
<rect transform="translate(415.43 925.3)" x="0" y="-22.5" width="5.6" height="22.5" fill="url(#pk)"/>
<line x1="432.58" y1="848.73" x2="432.58" y2="864.31" stroke="#83aadb" stroke-width="4.2"/>
<path d="M426.18 925.3V863.61Q426.18 860.61 429.18 860.61H435.98Q438.98 860.61 438.98 863.61V925.3Z" fill="#83aadb"/>
<rect transform="translate(429.88 925.3)" x="0" y="-60.79" width="5.5" height="60.79" fill="url(#bl)"/>
<line x1="456.55" y1="896.15" x2="456.55" y2="902.6" stroke="#e0b4b5" stroke-width="4.2"/>
<path d="M450 925.3V901.9Q450 898.9 453 898.9H460.1Q463.1 898.9 463.1 901.9V925.3Z" fill="#e0b4b5"/>
<rect transform="translate(453.75 925.3)" x="0" y="-22.5" width="5.6" height="22.5" fill="url(#pk)"/>
<line x1="470.9" y1="910.48" x2="470.9" y2="913.71" stroke="#83aadb" stroke-width="4.2"/>
<path d="M464.5 925.3V913.01Q464.5 910.01 467.5 910.01H474.3Q477.3 910.01 477.3 913.01V925.3Z" fill="#83aadb"/>
<rect transform="translate(468.2 925.3)" x="0" y="-11.39" width="5.5" height="11.39" fill="url(#bl)"/>
<line x1="494.87" y1="883.56" x2="494.87" y2="902.6" stroke="#e0b4b5" stroke-width="4.2"/>
<path d="M488.32 925.3V901.9Q488.32 898.9 491.32 898.9H498.42Q501.42 898.9 501.42 901.9V925.3Z" fill="#e0b4b5"/>
<rect transform="translate(492.07 925.3)" x="0" y="-22.5" width="5.6" height="22.5" fill="url(#pk)"/>
<line x1="509.22" y1="919.62" x2="509.22" y2="922.36" stroke="#83aadb" stroke-width="4.2"/>
<path d="M502.82 925.3V921.66Q502.82 918.66 505.82 918.66H512.62Q515.62 918.66 515.62 921.66V925.3Z" fill="#83aadb"/>
<line x1="533.19" y1="896.15" x2="533.19" y2="902.6" stroke="#e0b4b5" stroke-width="4.2"/>
<path d="M526.64 925.3V901.9Q526.64 898.9 529.64 898.9H536.74Q539.74 898.9 539.74 901.9V925.3Z" fill="#e0b4b5"/>
<rect transform="translate(530.39 925.3)" x="0" y="-22.5" width="5.6" height="22.5" fill="url(#pk)"/>
<line x1="547.54" y1="874.42" x2="547.54" y2="886.54" stroke="#83aadb" stroke-width="4.2"/>
<path d="M541.14 925.3V885.84Q541.14 882.84 544.14 882.84H550.94Q553.94 882.84 553.94 885.84V925.3Z" fill="#83aadb"/>
<rect transform="translate(544.84 925.3)" x="0" y="-38.55" width="5.5" height="38.55" fill="url(#bl)"/>
<line x1="571.51" y1="890.97" x2="571.51" y2="902.6" stroke="#e0b4b5" stroke-width="4.2"/>
<path d="M564.96 925.3V901.9Q564.96 898.9 567.96 898.9H575.06Q578.06 898.9 578.06 901.9V925.3Z" fill="#e0b4b5"/>
<rect transform="translate(568.71 925.3)" x="0" y="-22.5" width="5.6" height="22.5" fill="url(#pk)"/>
<line x1="585.86" y1="918.38" x2="585.86" y2="921.12" stroke="#83aadb" stroke-width="4.2"/>
<path d="M579.46 925.3V920.42Q579.46 917.42 582.46 917.42H589.26Q592.26 917.42 592.26 920.42V925.3Z" fill="#83aadb"/>
<rect transform="translate(583.16 925.3)" x="0" y="-3.97" width="5.5" height="3.97" fill="url(#bl)"/>
<line x1="609.83" y1="888.99" x2="609.83" y2="902.6" stroke="#e0b4b5" stroke-width="4.2"/>
<path d="M603.28 925.3V901.9Q603.28 898.9 606.28 898.9H613.38Q616.38 898.9 616.38 901.9V925.3Z" fill="#e0b4b5"/>
<rect transform="translate(607.03 925.3)" x="0" y="-22.5" width="5.6" height="22.5" fill="url(#pk)"/>
<line x1="624.18" y1="920.36" x2="624.18" y2="923.59" stroke="#83aadb" stroke-width="4.2"/>
<path d="M617.78 925.3V922.89Q617.78 919.89 620.78 919.89H627.58Q630.58 919.89 630.58 922.89V925.3Z" fill="#83aadb"/>
<line x1="648.15" y1="891.95" x2="648.15" y2="902.6" stroke="#e0b4b5" stroke-width="4.2"/>
<path d="M641.6 925.3V901.9Q641.6 898.9 644.6 898.9H651.7Q654.7 898.9 654.7 901.9V925.3Z" fill="#e0b4b5"/>
<rect transform="translate(645.35 925.3)" x="0" y="-22.5" width="5.6" height="22.5" fill="url(#pk)"/>
<line x1="662.5" y1="914.68" x2="662.5" y2="917.42" stroke="#83aadb" stroke-width="4.2"/>
<path d="M656.1 925.3V916.72Q656.1 913.72 659.1 913.72H665.9Q668.9 913.72 668.9 916.72V925.3Z" fill="#83aadb"/>
<rect transform="translate(659.8 925.3)" x="0" y="-7.68" width="5.5" height="7.68" fill="url(#bl)"/>
<line x1="686.47" y1="893.93" x2="686.47" y2="902.6" stroke="#e0b4b5" stroke-width="4.2"/>
<path d="M679.92 925.3V901.9Q679.92 898.9 682.92 898.9H690.02Q693.02 898.9 693.02 901.9V925.3Z" fill="#e0b4b5"/>
<rect transform="translate(683.67 925.3)" x="0" y="-22.5" width="5.6" height="22.5" fill="url(#pk)"/>
<line x1="700.82" y1="914.18" x2="700.82" y2="918.16" stroke="#83aadb" stroke-width="4.2"/>
<path d="M694.42 925.3V917.46Q694.42 914.46 697.42 914.46H704.22Q707.22 914.46 707.22 917.46V925.3Z" fill="#83aadb"/>
<rect transform="translate(698.12 925.3)" x="0" y="-6.94" width="5.5" height="6.94" fill="url(#bl)"/>
<line x1="724.79" y1="888.25" x2="724.79" y2="902.6" stroke="#e0b4b5" stroke-width="4.2"/>
<path d="M718.24 925.3V901.9Q718.24 898.9 721.24 898.9H728.34Q731.34 898.9 731.34 901.9V925.3Z" fill="#e0b4b5"/>
<rect transform="translate(721.99 925.3)" x="0" y="-22.5" width="5.6" height="22.5" fill="url(#pk)"/>
<line x1="739.14" y1="912.21" x2="739.14" y2="914.95" stroke="#83aadb" stroke-width="4.2"/>
<path d="M732.74 925.3V914.25Q732.74 911.25 735.74 911.25H742.54Q745.54 911.25 745.54 914.25V925.3Z" fill="#83aadb"/>
<rect transform="translate(736.44 925.3)" x="0" y="-10.15" width="5.5" height="10.15" fill="url(#bl)"/>
<line x1="763.11" y1="894.67" x2="763.11" y2="902.6" stroke="#e0b4b5" stroke-width="4.2"/>
<path d="M756.56 925.3V901.9Q756.56 898.9 759.56 898.9H766.66Q769.66 898.9 769.66 901.9V925.3Z" fill="#e0b4b5"/>
<rect transform="translate(760.31 925.3)" x="0" y="-22.5" width="5.6" height="22.5" fill="url(#pk)"/>
<line x1="777.46" y1="907.52" x2="777.46" y2="910.5" stroke="#83aadb" stroke-width="4.2"/>
<path d="M771.06 925.3V909.8Q771.06 906.8 774.06 906.8H780.86Q783.86 906.8 783.86 909.8V925.3Z" fill="#83aadb"/>
<rect transform="translate(774.76 925.3)" x="0" y="-14.6" width="5.5" height="14.6" fill="url(#bl)"/>
<line x1="801.43" y1="897.39" x2="801.43" y2="902.6" stroke="#e0b4b5" stroke-width="4.2"/>
<path d="M794.88 925.3V901.9Q794.88 898.9 797.88 898.9H804.98Q807.98 898.9 807.98 901.9V925.3Z" fill="#e0b4b5"/>
<rect transform="translate(798.63 925.3)" x="0" y="-22.5" width="5.6" height="22.5" fill="url(#pk)"/>
<line x1="815.78" y1="906.28" x2="815.78" y2="911.25" stroke="#83aadb" stroke-width="4.2"/>
<path d="M809.38 925.3V910.54Q809.38 907.54 812.38 907.54H819.18Q822.18 907.54 822.18 910.54V925.3Z" fill="#83aadb"/>
<rect transform="translate(813.08 925.3)" x="0" y="-13.85" width="5.5" height="13.85" fill="url(#bl)"/>
<line x1="61.5" y1="657" x2="61.5" y2="782" stroke="#000" stroke-width="3"/>
<line x1="61.5" y1="801.8" x2="61.5" y2="926.8" stroke="#000" stroke-width="3"/>
<line x1="54.5" y1="782" x2="68.2" y2="782" stroke="#000" stroke-width="3"/>
<line x1="54.5" y1="801.8" x2="68.2" y2="801.8" stroke="#000" stroke-width="3"/>
<line x1="52.9" y1="925.3" x2="825.7" y2="925.3" stroke="#000" stroke-width="3"/>
<line x1="54" y1="925.3" x2="61.5" y2="925.3" stroke="#000" stroke-width="3"/>
<text class="s b" x="50.5" y="932.1" font-size="19" text-anchor="end">0</text>
<line x1="54" y1="900.6" x2="61.5" y2="900.6" stroke="#000" stroke-width="3"/>
<text class="s b" x="50.5" y="907.4" font-size="19" text-anchor="end">1</text>
<line x1="54" y1="875.9" x2="61.5" y2="875.9" stroke="#000" stroke-width="3"/>
<text class="s b" x="50.5" y="882.7" font-size="19" text-anchor="end">2</text>
<line x1="54" y1="851.2" x2="61.5" y2="851.2" stroke="#000" stroke-width="3"/>
<text class="s b" x="50.5" y="858" font-size="19" text-anchor="end">3</text>
<line x1="54" y1="826.5" x2="61.5" y2="826.5" stroke="#000" stroke-width="3"/>
<text class="s b" x="50.5" y="833.3" font-size="19" text-anchor="end">4</text>
<text class="s b" x="50.5" y="808.6" font-size="19" text-anchor="end">5</text>
<line x1="54" y1="773.2" x2="61.5" y2="773.2" stroke="#000" stroke-width="3"/>
<text class="s b" x="50.5" y="780" font-size="19" text-anchor="end">8</text>
<line x1="54" y1="740.2" x2="61.5" y2="740.2" stroke="#000" stroke-width="3"/>
<text class="s b" x="50.5" y="747" font-size="19" text-anchor="end">10</text>
<line x1="54" y1="707.2" x2="61.5" y2="707.2" stroke="#000" stroke-width="3"/>
<text class="s b" x="50.5" y="714" font-size="19" text-anchor="end">12</text>
<line x1="54" y1="674.2" x2="61.5" y2="674.2" stroke="#000" stroke-width="3"/>
<text class="s b" x="50.5" y="681" font-size="19" text-anchor="end">14</text>
<line x1="80.2" y1="925.3" x2="80.2" y2="933.6" stroke="#000" stroke-width="3"/>
<text class="r b" x="85.3" y="949.8" font-size="20.5" text-anchor="end" transform="rotate(-45 85.3 949.8)">ITGA7</text>
<line x1="118.52" y1="925.3" x2="118.52" y2="933.6" stroke="#000" stroke-width="3"/>
<text class="r b" x="123.62" y="949.8" font-size="20.5" text-anchor="end" transform="rotate(-45 123.62 949.8)">SPP1</text>
<line x1="156.84" y1="925.3" x2="156.84" y2="933.6" stroke="#000" stroke-width="3"/>
<text class="r b" x="161.94" y="949.8" font-size="20.5" text-anchor="end" transform="rotate(-45 161.94 949.8)">LAMA2</text>
<line x1="195.16" y1="925.3" x2="195.16" y2="933.6" stroke="#000" stroke-width="3"/>
<text class="r b" x="200.26" y="949.8" font-size="20.5" text-anchor="end" transform="rotate(-45 200.26 949.8)">CLDN1</text>
<line x1="233.48" y1="925.3" x2="233.48" y2="933.6" stroke="#000" stroke-width="3"/>
<text class="r b" x="238.58" y="949.8" font-size="20.5" text-anchor="end" transform="rotate(-45 238.58 949.8)">DDIT4</text>
<line x1="271.8" y1="925.3" x2="271.8" y2="933.6" stroke="#000" stroke-width="3"/>
<text class="r b" x="276.9" y="949.8" font-size="20.5" text-anchor="end" transform="rotate(-45 276.9 949.8)">ITGA2B</text>
<line x1="310.12" y1="925.3" x2="310.12" y2="933.6" stroke="#000" stroke-width="3"/>
<text class="r b" x="315.22" y="949.8" font-size="20.5" text-anchor="end" transform="rotate(-45 315.22 949.8)">SHC2</text>
<line x1="348.44" y1="925.3" x2="348.44" y2="933.6" stroke="#000" stroke-width="3"/>
<text class="r b" x="353.54" y="949.8" font-size="20.5" text-anchor="end" transform="rotate(-45 353.54 949.8)">JAK3</text>
<line x1="386.76" y1="925.3" x2="386.76" y2="933.6" stroke="#000" stroke-width="3"/>
<text class="r b" x="391.86" y="949.8" font-size="20.5" text-anchor="end" transform="rotate(-45 391.86 949.8)">PCK2</text>
<line x1="425.08" y1="925.3" x2="425.08" y2="933.6" stroke="#000" stroke-width="3"/>
<text class="r b" x="430.18" y="949.8" font-size="20.5" text-anchor="end" transform="rotate(-45 430.18 949.8)">DCHS1</text>
<line x1="463.4" y1="925.3" x2="463.4" y2="933.6" stroke="#000" stroke-width="3"/>
<text class="r b" x="468.5" y="949.8" font-size="20.5" text-anchor="end" transform="rotate(-45 468.5 949.8)">PIK3R3</text>
<line x1="501.72" y1="925.3" x2="501.72" y2="933.6" stroke="#000" stroke-width="3"/>
<text class="r b" x="506.82" y="949.8" font-size="20.5" text-anchor="end" transform="rotate(-45 506.82 949.8)">LAMA4</text>
<line x1="540.04" y1="925.3" x2="540.04" y2="933.6" stroke="#000" stroke-width="3"/>
<text class="r b" x="545.14" y="949.8" font-size="20.5" text-anchor="end" transform="rotate(-45 545.14 949.8)">COL6A3</text>
<line x1="578.36" y1="925.3" x2="578.36" y2="933.6" stroke="#000" stroke-width="3"/>
<text class="r b" x="583.46" y="949.8" font-size="20.5" text-anchor="end" transform="rotate(-45 583.46 949.8)">COL5A1</text>
<line x1="616.68" y1="925.3" x2="616.68" y2="933.6" stroke="#000" stroke-width="3"/>
<text class="r b" x="621.78" y="949.8" font-size="20.5" text-anchor="end" transform="rotate(-45 621.78 949.8)">Mex3a</text>
<line x1="655" y1="925.3" x2="655" y2="933.6" stroke="#000" stroke-width="3"/>
<text class="r b" x="660.1" y="949.8" font-size="20.5" text-anchor="end" transform="rotate(-45 660.1 949.8)">PDGFA</text>
<line x1="693.32" y1="925.3" x2="693.32" y2="933.6" stroke="#000" stroke-width="3"/>
<text class="r b" x="698.42" y="949.8" font-size="20.5" text-anchor="end" transform="rotate(-45 698.42 949.8)">ITGA10</text>
<line x1="731.64" y1="925.3" x2="731.64" y2="933.6" stroke="#000" stroke-width="3"/>
<text class="r b" x="736.74" y="949.8" font-size="20.5" text-anchor="end" transform="rotate(-45 736.74 949.8)">ITGB3</text>
<line x1="769.96" y1="925.3" x2="769.96" y2="933.6" stroke="#000" stroke-width="3"/>
<text class="r b" x="775.06" y="949.8" font-size="20.5" text-anchor="end" transform="rotate(-45 775.06 949.8)">ITGA2</text>
<line x1="808.28" y1="925.3" x2="808.28" y2="933.6" stroke="#000" stroke-width="3"/>
<text class="r b" x="813.38" y="949.8" font-size="20.5" text-anchor="end" transform="rotate(-45 813.38 949.8)">LAMA3</text>
<text class="r b" x="16.5" y="792" font-size="21.5" text-anchor="middle" transform="rotate(-90 16.5 792)" textLength="287" lengthAdjust="spacing">Relative expression of mRNA</text>
<rect x="81.2" y="664.2" width="32.6" height="17.6" fill="#e0b4b5" rx="2.5"/>
<rect transform="translate(85 678)" x="0" y="-10" width="25.2" height="10" fill="url(#pk)"/>
<rect x="81.2" y="695" width="32.6" height="17.6" fill="#83aadb" rx="2.5"/>
<g transform="translate(83.2 694.8)"><rect x="2.2" y="4.4" width="24.6" height="9.8" fill="url(#bl2)"/></g>
<text class="r" x="128.5" y="680.6" font-size="22">shNC</text>
<text class="r" x="128.5" y="711.4" font-size="22">shmex3a</text>
<line x1="108.6" y1="868.2" x2="128.7" y2="868.2" stroke="#000" stroke-width="1.6"/>
<text class="s" x="118.65" y="869.7" font-size="22" text-anchor="middle">**</text>
<line x1="148.1" y1="863.2" x2="163.7" y2="863.2" stroke="#000" stroke-width="1.6"/>
<text class="s" x="155.9" y="864.7" font-size="22" text-anchor="middle">*</text>
<line x1="187.1" y1="838.4" x2="202.5" y2="838.4" stroke="#000" stroke-width="1.6"/>
<text class="s" x="194.8" y="839.9" font-size="22" text-anchor="middle">*</text>
<line x1="224.2" y1="874.3" x2="244.2" y2="874.3" stroke="#000" stroke-width="1.6"/>
<text class="s" x="234.2" y="875.8" font-size="22" text-anchor="middle">*</text>
<line x1="300.8" y1="697.2" x2="316.6" y2="697.2" stroke="#000" stroke-width="1.6"/>
<text class="s" x="308.7" y="698.7" font-size="22" text-anchor="middle">*</text>
<line x1="339.2" y1="886" x2="355.6" y2="886" stroke="#000" stroke-width="1.6"/>
<text class="s" x="347.4" y="887.5" font-size="22" text-anchor="middle">**</text>
<line x1="377.9" y1="884" x2="394" y2="884" stroke="#000" stroke-width="1.6"/>
<text class="s" x="385.95" y="885.5" font-size="22" text-anchor="middle">*</text>
<line x1="412.7" y1="844" x2="432.5" y2="844" stroke="#000" stroke-width="1.6"/>
<text class="s" x="422.6" y="845.5" font-size="22" text-anchor="middle">*</text>
<line x1="454.8" y1="888.7" x2="471" y2="888.7" stroke="#000" stroke-width="1.6"/>
<text class="s" x="462.9" y="890.2" font-size="22" text-anchor="middle">*</text>
<line x1="493.8" y1="878.1" x2="509.1" y2="878.1" stroke="#000" stroke-width="1.6"/>
<text class="s" x="501.45" y="879.6" font-size="22" text-anchor="middle">**</text>
<line x1="530.6" y1="870.6" x2="547" y2="870.6" stroke="#000" stroke-width="1.6"/>
<text class="s" x="538.8" y="872.1" font-size="22" text-anchor="middle">*</text>
<line x1="569.8" y1="885" x2="584.9" y2="885" stroke="#000" stroke-width="1.6"/>
<text class="s" x="577.35" y="886.5" font-size="22" text-anchor="middle">*</text>
<line x1="608.5" y1="884.2" x2="626.1" y2="884.2" stroke="#000" stroke-width="1.6"/>
<text class="s" x="617.3" y="885.7" font-size="22" text-anchor="middle">*</text>
<line x1="647" y1="884.2" x2="661.7" y2="884.2" stroke="#000" stroke-width="1.6"/>
<text class="s" x="654.35" y="885.7" font-size="22" text-anchor="middle">*</text>
<line x1="684.5" y1="882.8" x2="700.4" y2="882.8" stroke="#000" stroke-width="1.6"/>
<text class="s" x="692.45" y="884.3" font-size="22" text-anchor="middle">*</text>
<line x1="762" y1="883.4" x2="777.8" y2="883.4" stroke="#000" stroke-width="1.6"/>
<text class="s" x="769.9" y="884.9" font-size="22" text-anchor="middle">*</text>
<line x1="798.7" y1="883.4" x2="814.6" y2="883.4" stroke="#000" stroke-width="1.6"/>
<text class="s" x="806.65" y="884.9" font-size="22" text-anchor="middle">*</text>
<path d="M969.6 925.8V903.45Q969.6 900.45 972.6 900.45H980.5Q983.5 900.45 983.5 903.45V925.8Z" fill="#000"/>
<line x1="976.55" y1="896.24" x2="976.55" y2="903.15" stroke="#000" stroke-width="4"/>
<rect x="973.75" y="896.24" width="5.6" height="3" fill="#000"/>
<path d="M985.8 925.8V888.79Q985.8 885.79 988.8 885.79H996.7Q999.7 885.79 999.7 888.79V925.8Z" fill="#a6a6a9"/>
<line x1="992.75" y1="869.04" x2="992.75" y2="888.49" stroke="#000" stroke-width="4"/>
<rect x="989.95" y="869.04" width="5.6" height="3" fill="#000"/>
<path d="M1013.31 925.8V903.45Q1013.31 900.45 1016.31 900.45H1024.21Q1027.21 900.45 1027.21 903.45V925.8Z" fill="#000"/>
<line x1="1020.26" y1="894.35" x2="1020.26" y2="903.15" stroke="#000" stroke-width="4"/>
<rect x="1017.46" y="894.35" width="5.6" height="3" fill="#000"/>
<path d="M1029.51 925.8V896.83Q1029.51 893.83 1032.51 893.83H1040.41Q1043.41 893.83 1043.41 896.83V925.8Z" fill="#a6a6a9"/>
<line x1="1036.46" y1="889.62" x2="1036.46" y2="896.53" stroke="#000" stroke-width="4"/>
<rect x="1033.66" y="889.62" width="5.6" height="3" fill="#000"/>
<path d="M1057.02 925.8V903.45Q1057.02 900.45 1060.02 900.45H1067.92Q1070.92 900.45 1070.92 903.45V925.8Z" fill="#000"/>
<line x1="1063.97" y1="897.42" x2="1063.97" y2="903.15" stroke="#000" stroke-width="4"/>
<rect x="1061.17" y="897.42" width="5.6" height="3" fill="#000"/>
<path d="M1073.22 925.8V916.46Q1073.22 913.46 1076.22 913.46H1084.12Q1087.12 913.46 1087.12 916.46V925.8Z" fill="#a6a6a9"/>
<line x1="1080.17" y1="911.14" x2="1080.17" y2="916.16" stroke="#000" stroke-width="4"/>
<rect x="1077.37" y="911.14" width="5.6" height="3" fill="#000"/>
<path d="M1100.73 925.8V902.98Q1100.73 899.98 1103.73 899.98H1111.63Q1114.63 899.98 1114.63 902.98V925.8Z" fill="#000"/>
<line x1="1107.68" y1="899.55" x2="1107.68" y2="902.68" stroke="#000" stroke-width="4"/>
<rect x="1104.88" y="899.55" width="5.6" height="3" fill="#000"/>
<path d="M1116.93 925.8V907Q1116.93 904 1119.93 904H1127.83Q1130.83 904 1130.83 907V925.8Z" fill="#a6a6a9"/>
<line x1="1123.88" y1="904.04" x2="1123.88" y2="906.7" stroke="#000" stroke-width="4"/>
<rect x="1121.08" y="904.04" width="5.6" height="3" fill="#000"/>
<path d="M1144.44 925.8V903.45Q1144.44 900.45 1147.44 900.45H1155.34Q1158.34 900.45 1158.34 903.45V925.8Z" fill="#000"/>
<line x1="1151.39" y1="889.14" x2="1151.39" y2="903.15" stroke="#000" stroke-width="4"/>
<rect x="1148.59" y="889.14" width="5.6" height="3" fill="#000"/>
<path d="M1160.64 925.8V897.54Q1160.64 894.54 1163.64 894.54H1171.54Q1174.54 894.54 1174.54 897.54V925.8Z" fill="#a6a6a9"/>
<line x1="1167.59" y1="885.59" x2="1167.59" y2="897.24" stroke="#000" stroke-width="4"/>
<rect x="1164.79" y="885.59" width="5.6" height="3" fill="#000"/>
<path d="M1188.15 925.8V903.45Q1188.15 900.45 1191.15 900.45H1199.05Q1202.05 900.45 1202.05 903.45V925.8Z" fill="#000"/>
<line x1="1195.1" y1="891.51" x2="1195.1" y2="903.15" stroke="#000" stroke-width="4"/>
<rect x="1192.3" y="891.51" width="5.6" height="3" fill="#000"/>
<path d="M1204.35 925.8V901.56Q1204.35 898.56 1207.35 898.56H1215.25Q1218.25 898.56 1218.25 901.56V925.8Z" fill="#a6a6a9"/>
<line x1="1211.3" y1="891.51" x2="1211.3" y2="901.26" stroke="#000" stroke-width="4"/>
<rect x="1208.5" y="891.51" width="5.6" height="3" fill="#000"/>
<path d="M1231.86 925.8V903.45Q1231.86 900.45 1234.86 900.45H1242.76Q1245.76 900.45 1245.76 903.45V925.8Z" fill="#000"/>
<line x1="1238.81" y1="885.59" x2="1238.81" y2="903.15" stroke="#000" stroke-width="4"/>
<rect x="1236.01" y="885.59" width="5.6" height="3" fill="#000"/>
<path d="M1248.06 925.8V900.38Q1248.06 897.38 1251.06 897.38H1258.96Q1261.96 897.38 1261.96 900.38V925.8Z" fill="#a6a6a9"/>
<line x1="1255.01" y1="883.7" x2="1255.01" y2="900.08" stroke="#000" stroke-width="4"/>
<rect x="1252.21" y="883.7" width="5.6" height="3" fill="#000"/>
<path d="M1275.57 925.8V903.45Q1275.57 900.45 1278.57 900.45H1286.47Q1289.47 900.45 1289.47 903.45V925.8Z" fill="#000"/>
<line x1="1282.52" y1="891.98" x2="1282.52" y2="903.15" stroke="#000" stroke-width="4"/>
<rect x="1279.72" y="891.98" width="5.6" height="3" fill="#000"/>
<path d="M1291.77 925.8V885.71Q1291.77 882.71 1294.77 882.71H1302.67Q1305.67 882.71 1305.67 885.71V925.8Z" fill="#a6a6a9"/>
<line x1="1298.72" y1="867.86" x2="1298.72" y2="885.41" stroke="#000" stroke-width="4"/>
<rect x="1295.92" y="867.86" width="5.6" height="3" fill="#000"/>
<path d="M1319.28 925.8V903.45Q1319.28 900.45 1322.28 900.45H1330.18Q1333.18 900.45 1333.18 903.45V925.8Z" fill="#000"/>
<line x1="1326.23" y1="892.22" x2="1326.23" y2="903.15" stroke="#000" stroke-width="4"/>
<rect x="1323.43" y="892.22" width="5.6" height="3" fill="#000"/>
<path d="M1335.48 925.8V907.71Q1335.48 904.71 1338.48 904.71H1346.38Q1349.38 904.71 1349.38 907.71V925.8Z" fill="#a6a6a9"/>
<line x1="1342.43" y1="903.33" x2="1342.43" y2="907.41" stroke="#000" stroke-width="4"/>
<rect x="1339.63" y="903.33" width="5.6" height="3" fill="#000"/>
<path d="M1362.99 925.8V903.45Q1362.99 900.45 1365.99 900.45H1373.89Q1376.89 900.45 1376.89 903.45V925.8Z" fill="#000"/>
<line x1="1369.94" y1="889.62" x2="1369.94" y2="903.15" stroke="#000" stroke-width="4"/>
<rect x="1367.14" y="889.62" width="5.6" height="3" fill="#000"/>
<path d="M1379.19 925.8V893.99Q1379.19 890.99 1382.19 890.99H1390.09Q1393.09 890.99 1393.09 893.99V925.8Z" fill="#a6a6a9"/>
<line x1="1386.14" y1="883.7" x2="1386.14" y2="893.69" stroke="#000" stroke-width="4"/>
<rect x="1383.34" y="883.7" width="5.6" height="3" fill="#000"/>
<path d="M1406.7 925.8V903.45Q1406.7 900.45 1409.7 900.45H1417.6Q1420.6 900.45 1420.6 903.45V925.8Z" fill="#000"/>
<line x1="1413.65" y1="900.26" x2="1413.65" y2="903.15" stroke="#000" stroke-width="4"/>
<rect x="1410.85" y="900.26" width="5.6" height="3" fill="#000"/>
<path d="M1422.9 925.8V884.53Q1422.9 881.53 1425.9 881.53H1433.8Q1436.8 881.53 1436.8 884.53V925.8Z" fill="#a6a6a9"/>
<line x1="1429.85" y1="870.7" x2="1429.85" y2="884.23" stroke="#000" stroke-width="4"/>
<rect x="1427.05" y="870.7" width="5.6" height="3" fill="#000"/>
<path d="M1450.41 925.8V903.45Q1450.41 900.45 1453.41 900.45H1461.31Q1464.31 900.45 1464.31 903.45V925.8Z" fill="#000"/>
<line x1="1457.36" y1="897.42" x2="1457.36" y2="903.15" stroke="#000" stroke-width="4"/>
<rect x="1454.56" y="897.42" width="5.6" height="3" fill="#000"/>
<path d="M1466.61 925.8V904.63Q1466.61 901.63 1469.61 901.63H1477.51Q1480.51 901.63 1480.51 904.63V925.8Z" fill="#a6a6a9"/>
<line x1="1473.56" y1="900.97" x2="1473.56" y2="904.33" stroke="#000" stroke-width="4"/>
<rect x="1470.76" y="900.97" width="5.6" height="3" fill="#000"/>
<path d="M1494.12 925.8V903.45Q1494.12 900.45 1497.12 900.45H1505.02Q1508.02 900.45 1508.02 903.45V925.8Z" fill="#000"/>
<line x1="1501.07" y1="893.87" x2="1501.07" y2="903.15" stroke="#000" stroke-width="4"/>
<rect x="1498.27" y="893.87" width="5.6" height="3" fill="#000"/>
<path d="M1510.32 925.8V878.62Q1510.32 875.62 1513.32 875.62H1521.22Q1524.22 875.62 1524.22 878.62V925.8Z" fill="#a6a6a9"/>
<line x1="1517.27" y1="854.85" x2="1517.27" y2="878.32" stroke="#000" stroke-width="4"/>
<rect x="1514.47" y="854.85" width="5.6" height="3" fill="#000"/>
<path d="M1537.83 925.8V903.45Q1537.83 900.45 1540.83 900.45H1548.73Q1551.73 900.45 1551.73 903.45V925.8Z" fill="#000"/>
<line x1="1544.78" y1="899.78" x2="1544.78" y2="903.15" stroke="#000" stroke-width="4"/>
<rect x="1541.98" y="899.78" width="5.6" height="3" fill="#000"/>
<path d="M1554.03 925.8V880.27Q1554.03 877.27 1557.03 877.27H1564.93Q1567.93 877.27 1567.93 880.27V925.8Z" fill="#a6a6a9"/>
<line x1="1560.98" y1="869.99" x2="1560.98" y2="879.97" stroke="#000" stroke-width="4"/>
<rect x="1558.18" y="869.99" width="5.6" height="3" fill="#000"/>
<path d="M1581.54 925.8V903.45Q1581.54 900.45 1584.54 900.45H1592.44Q1595.44 900.45 1595.44 903.45V925.8Z" fill="#000"/>
<line x1="1588.49" y1="887.96" x2="1588.49" y2="903.15" stroke="#000" stroke-width="4"/>
<rect x="1585.69" y="887.96" width="5.6" height="3" fill="#000"/>
<rect x="1597.74" y="808" width="13.9" height="117.8" fill="#a6a6a9"/>
<path d="M1597.74 788.4V703.78Q1597.74 700.78 1600.74 700.78H1608.64Q1611.64 700.78 1611.64 703.78V788.4Z" fill="#a6a6a9"/>
<line x1="1604.69" y1="687.34" x2="1604.69" y2="703.48" stroke="#000" stroke-width="4"/>
<rect x="1601.89" y="687.34" width="5.6" height="3" fill="#000"/>
<path d="M1625.25 925.8V903.45Q1625.25 900.45 1628.25 900.45H1636.15Q1639.15 900.45 1639.15 903.45V925.8Z" fill="#000"/>
<line x1="1632.2" y1="896.95" x2="1632.2" y2="903.15" stroke="#000" stroke-width="4"/>
<rect x="1629.4" y="896.95" width="5.6" height="3" fill="#000"/>
<path d="M1641.45 925.8V895.17Q1641.45 892.17 1644.45 892.17H1652.35Q1655.35 892.17 1655.35 895.17V925.8Z" fill="#a6a6a9"/>
<line x1="1648.4" y1="887.49" x2="1648.4" y2="894.87" stroke="#000" stroke-width="4"/>
<rect x="1645.6" y="887.49" width="5.6" height="3" fill="#000"/>
<path d="M1668.96 925.8V903.45Q1668.96 900.45 1671.96 900.45H1679.86Q1682.86 900.45 1682.86 903.45V925.8Z" fill="#000"/>
<line x1="1675.91" y1="891.51" x2="1675.91" y2="903.15" stroke="#000" stroke-width="4"/>
<rect x="1673.11" y="891.51" width="5.6" height="3" fill="#000"/>
<path d="M1685.16 925.8V902.98Q1685.16 899.98 1688.16 899.98H1696.06Q1699.06 899.98 1699.06 902.98V925.8Z" fill="#a6a6a9"/>
<line x1="1692.11" y1="899.78" x2="1692.11" y2="902.68" stroke="#000" stroke-width="4"/>
<rect x="1689.31" y="899.78" width="5.6" height="3" fill="#000"/>
<path d="M1712.67 925.8V903.45Q1712.67 900.45 1715.67 900.45H1723.57Q1726.57 900.45 1726.57 903.45V925.8Z" fill="#000"/>
<line x1="1719.62" y1="895.53" x2="1719.62" y2="903.15" stroke="#000" stroke-width="4"/>
<rect x="1716.82" y="895.53" width="5.6" height="3" fill="#000"/>
<path d="M1728.87 925.8V890.44Q1728.87 887.44 1731.87 887.44H1739.77Q1742.77 887.44 1742.77 890.44V925.8Z" fill="#a6a6a9"/>
<line x1="1735.82" y1="885.59" x2="1735.82" y2="890.14" stroke="#000" stroke-width="4"/>
<rect x="1733.02" y="885.59" width="5.6" height="3" fill="#000"/>
<path d="M1756.38 925.8V903.45Q1756.38 900.45 1759.38 900.45H1767.28Q1770.28 900.45 1770.28 903.45V925.8Z" fill="#000"/>
<line x1="1763.33" y1="893.4" x2="1763.33" y2="903.15" stroke="#000" stroke-width="4"/>
<rect x="1760.53" y="893.4" width="5.6" height="3" fill="#000"/>
<path d="M1772.58 925.8V907Q1772.58 904 1775.58 904H1783.48Q1786.48 904 1786.48 907V925.8Z" fill="#a6a6a9"/>
<line x1="1779.53" y1="896.95" x2="1779.53" y2="906.7" stroke="#000" stroke-width="4"/>
<rect x="1776.73" y="896.95" width="5.6" height="3" fill="#000"/>
<path d="M1800.09 925.8V903.45Q1800.09 900.45 1803.09 900.45H1810.99Q1813.99 900.45 1813.99 903.45V925.8Z" fill="#000"/>
<line x1="1807.04" y1="894.35" x2="1807.04" y2="903.15" stroke="#000" stroke-width="4"/>
<rect x="1804.24" y="894.35" width="5.6" height="3" fill="#000"/>
<path d="M1816.29 925.8V901.56Q1816.29 898.56 1819.29 898.56H1827.19Q1830.19 898.56 1830.19 901.56V925.8Z" fill="#a6a6a9"/>
<line x1="1823.24" y1="892.22" x2="1823.24" y2="901.26" stroke="#000" stroke-width="4"/>
<rect x="1820.44" y="892.22" width="5.6" height="3" fill="#000"/>
<line x1="963.5" y1="669.2" x2="963.5" y2="788.8" stroke="#000" stroke-width="2.6"/>
<line x1="963.5" y1="807.5" x2="963.5" y2="927.3" stroke="#000" stroke-width="2.6"/>
<line x1="957" y1="788.8" x2="969.3" y2="788.8" stroke="#000" stroke-width="2.6"/>
<line x1="957" y1="807.5" x2="969.3" y2="807.5" stroke="#000" stroke-width="2.6"/>
<line x1="955.5" y1="926.1" x2="1837" y2="926.1" stroke="#000" stroke-width="3"/>
<line x1="956.5" y1="925.8" x2="963.5" y2="925.8" stroke="#000" stroke-width="2.6"/>
<text class="s b" x="953" y="932.6" font-size="19" text-anchor="end">0</text>
<line x1="956.5" y1="902.15" x2="963.5" y2="902.15" stroke="#000" stroke-width="2.6"/>
<text class="s b" x="953" y="908.95" font-size="19" text-anchor="end">1</text>
<line x1="956.5" y1="878.5" x2="963.5" y2="878.5" stroke="#000" stroke-width="2.6"/>
<text class="s b" x="953" y="885.3" font-size="19" text-anchor="end">2</text>
<line x1="956.5" y1="854.85" x2="963.5" y2="854.85" stroke="#000" stroke-width="2.6"/>
<text class="s b" x="953" y="861.65" font-size="19" text-anchor="end">3</text>
<line x1="956.5" y1="831.2" x2="963.5" y2="831.2" stroke="#000" stroke-width="2.6"/>
<text class="s b" x="953" y="838" font-size="19" text-anchor="end">4</text>
<text class="s b" x="953" y="814.3" font-size="19" text-anchor="end">5</text>
<text class="s b" x="953" y="795.6" font-size="19" text-anchor="end">5</text>
<line x1="956.5" y1="765.15" x2="963.5" y2="765.15" stroke="#000" stroke-width="2.6"/>
<text class="s b" x="953" y="771.95" font-size="19" text-anchor="end">6</text>
<line x1="956.5" y1="741.5" x2="963.5" y2="741.5" stroke="#000" stroke-width="2.6"/>
<text class="s b" x="953" y="748.3" font-size="19" text-anchor="end">7</text>
<line x1="956.5" y1="717.85" x2="963.5" y2="717.85" stroke="#000" stroke-width="2.6"/>
<text class="s b" x="953" y="724.65" font-size="19" text-anchor="end">8</text>
<line x1="956.5" y1="694.2" x2="963.5" y2="694.2" stroke="#000" stroke-width="2.6"/>
<text class="s b" x="953" y="701" font-size="19" text-anchor="end">9</text>
<line x1="956.5" y1="670.55" x2="963.5" y2="670.55" stroke="#000" stroke-width="2.6"/>
<text class="s b" x="953" y="677.35" font-size="19" text-anchor="end">10</text>
<line x1="984.9" y1="925.8" x2="984.9" y2="934.1" stroke="#000" stroke-width="2.6"/>
<text class="r b" x="988.9" y="947.2" font-size="19.5" text-anchor="end" transform="rotate(-45 988.9 947.2)">ITGA7</text>
<line x1="1028.61" y1="925.8" x2="1028.61" y2="934.1" stroke="#000" stroke-width="2.6"/>
<text class="r b" x="1032.61" y="947.2" font-size="19.5" text-anchor="end" transform="rotate(-45 1032.61 947.2)">SPP1</text>
<line x1="1072.32" y1="925.8" x2="1072.32" y2="934.1" stroke="#000" stroke-width="2.6"/>
<text class="r b" x="1076.32" y="947.2" font-size="19.5" text-anchor="end" transform="rotate(-45 1076.32 947.2)">LAMA2</text>
<line x1="1116.03" y1="925.8" x2="1116.03" y2="934.1" stroke="#000" stroke-width="2.6"/>
<text class="r b" x="1120.03" y="947.2" font-size="19.5" text-anchor="end" transform="rotate(-45 1120.03 947.2)">CLDN1</text>
<line x1="1159.74" y1="925.8" x2="1159.74" y2="934.1" stroke="#000" stroke-width="2.6"/>
<text class="r b" x="1163.74" y="947.2" font-size="19.5" text-anchor="end" transform="rotate(-45 1163.74 947.2)">DDIT4</text>
<line x1="1203.45" y1="925.8" x2="1203.45" y2="934.1" stroke="#000" stroke-width="2.6"/>
<text class="r b" x="1207.45" y="947.2" font-size="19.5" text-anchor="end" transform="rotate(-45 1207.45 947.2)">ITGA2B</text>
<line x1="1247.16" y1="925.8" x2="1247.16" y2="934.1" stroke="#000" stroke-width="2.6"/>
<text class="r b" x="1251.16" y="947.2" font-size="19.5" text-anchor="end" transform="rotate(-45 1251.16 947.2)">SHC2</text>
<line x1="1290.87" y1="925.8" x2="1290.87" y2="934.1" stroke="#000" stroke-width="2.6"/>
<text class="r b" x="1294.87" y="947.2" font-size="19.5" text-anchor="end" transform="rotate(-45 1294.87 947.2)">JAK3</text>
<line x1="1334.58" y1="925.8" x2="1334.58" y2="934.1" stroke="#000" stroke-width="2.6"/>
<text class="r b" x="1338.58" y="947.2" font-size="19.5" text-anchor="end" transform="rotate(-45 1338.58 947.2)">PCK2</text>
<line x1="1378.29" y1="925.8" x2="1378.29" y2="934.1" stroke="#000" stroke-width="2.6"/>
<text class="r b" x="1382.29" y="947.2" font-size="19.5" text-anchor="end" transform="rotate(-45 1382.29 947.2)">DCHS1</text>
<line x1="1422" y1="925.8" x2="1422" y2="934.1" stroke="#000" stroke-width="2.6"/>
<text class="r b" x="1426" y="947.2" font-size="19.5" text-anchor="end" transform="rotate(-45 1426 947.2)">PIK3R3</text>
<line x1="1465.71" y1="925.8" x2="1465.71" y2="934.1" stroke="#000" stroke-width="2.6"/>
<text class="r b" x="1469.71" y="947.2" font-size="19.5" text-anchor="end" transform="rotate(-45 1469.71 947.2)">LAMA4</text>
<line x1="1509.42" y1="925.8" x2="1509.42" y2="934.1" stroke="#000" stroke-width="2.6"/>
<text class="r b" x="1513.42" y="947.2" font-size="19.5" text-anchor="end" transform="rotate(-45 1513.42 947.2)">COL6A3</text>
<line x1="1553.13" y1="925.8" x2="1553.13" y2="934.1" stroke="#000" stroke-width="2.6"/>
<text class="r b" x="1557.13" y="947.2" font-size="19.5" text-anchor="end" transform="rotate(-45 1557.13 947.2)">COL5A1</text>
<line x1="1596.84" y1="925.8" x2="1596.84" y2="934.1" stroke="#000" stroke-width="2.6"/>
<text class="r b" x="1600.84" y="947.2" font-size="19.5" text-anchor="end" transform="rotate(-45 1600.84 947.2)">Mex3a</text>
<line x1="1640.55" y1="925.8" x2="1640.55" y2="934.1" stroke="#000" stroke-width="2.6"/>
<text class="r b" x="1644.55" y="947.2" font-size="19.5" text-anchor="end" transform="rotate(-45 1644.55 947.2)">PDGFA</text>
<line x1="1684.26" y1="925.8" x2="1684.26" y2="934.1" stroke="#000" stroke-width="2.6"/>
<text class="r b" x="1688.26" y="947.2" font-size="19.5" text-anchor="end" transform="rotate(-45 1688.26 947.2)">ITGA10</text>
<line x1="1727.97" y1="925.8" x2="1727.97" y2="934.1" stroke="#000" stroke-width="2.6"/>
<text class="r b" x="1731.97" y="947.2" font-size="19.5" text-anchor="end" transform="rotate(-45 1731.97 947.2)">ITGB3</text>
<line x1="1771.68" y1="925.8" x2="1771.68" y2="934.1" stroke="#000" stroke-width="2.6"/>
<text class="r b" x="1775.68" y="947.2" font-size="19.5" text-anchor="end" transform="rotate(-45 1775.68 947.2)">ITGA2</text>
<line x1="1815.39" y1="925.8" x2="1815.39" y2="934.1" stroke="#000" stroke-width="2.6"/>
<text class="r b" x="1819.39" y="947.2" font-size="19.5" text-anchor="end" transform="rotate(-45 1819.39 947.2)">LAMA3</text>
<text class="r b" x="914.5" y="797.5" font-size="21" text-anchor="middle" transform="rotate(-90 914.5 797.5)" textLength="276" lengthAdjust="spacing">Relative expression of mRNA</text>
<rect x="988.6" y="681.3" width="31.1" height="16.7" fill="#000" rx="3"/>
<rect x="988.6" y="710.8" width="31.1" height="16.7" fill="#a6a6a9" rx="3"/>
<text class="r" x="1033.5" y="696" font-size="21.5" letter-spacing="0.4">vect<tspan font-weight="bold">or</tspan></text>
<text class="r" x="1033.5" y="725.6" font-size="21.5">mex3a<tspan font-weight="bold">-OE</tspan></text>
<line x1="973.8" y1="854.2" x2="993.3" y2="854.2" stroke="#000" stroke-width="1.4"/>
<text class="s" x="984.55" y="847.9" font-size="16.5" text-anchor="middle">**</text>
<line x1="1061.5" y1="887.4" x2="1082.4" y2="887.4" stroke="#000" stroke-width="1.4"/>
<text class="s" x="1072.95" y="881.2" font-size="16.5" text-anchor="middle">***</text>
<line x1="1104.7" y1="889" x2="1126.1" y2="889" stroke="#000" stroke-width="1.4"/>
<text class="s" x="1116.4" y="879.2" font-size="16.5" text-anchor="middle">*</text>
<line x1="1411.4" y1="863.2" x2="1429.5" y2="863.2" stroke="#000" stroke-width="1.4"/>
<text class="s" x="1421.45" y="854.1" font-size="16.5" text-anchor="middle">*</text>
<line x1="1541.4" y1="860.5" x2="1560" y2="860.5" stroke="#000" stroke-width="1.4"/>
<text class="s" x="1551.7" y="853.8" font-size="16.5" text-anchor="middle">*</text>
<line x1="1584.8" y1="684.4" x2="1606.8" y2="684.4" stroke="#000" stroke-width="1.4"/>
<text class="s" x="1596.8" y="682.2" font-size="16.5" text-anchor="middle">****</text>
<line x1="1717.4" y1="878.3" x2="1735" y2="878.3" stroke="#000" stroke-width="1.4"/>
<text class="s" x="1727.2" y="867" font-size="16.5" text-anchor="middle">*</text>
<path d="M253 1424.6V1419.65Q253 1416.65 256 1416.65H310.6Q313.6 1416.65 313.6 1419.65V1424.6Z" fill="#000"/>
<path d="M339 1424.6V1419.65Q339 1416.65 342 1416.65H396.6Q399.6 1416.65 399.6 1419.65V1424.6Z" fill="#a6a6a9"/>
<line x1="355" y1="1416.55" x2="383.5" y2="1416.55" stroke="#000" stroke-width="3.6"/>
<path d="M481.8 1424.6V1410.76Q481.8 1407.76 484.8 1407.76H539.8Q542.8 1407.76 542.8 1410.76V1424.6Z" fill="#000"/>
<line x1="498" y1="1407" x2="526.7" y2="1407" stroke="#000" stroke-width="4"/>
<path d="M567.8 1424.6V1224.38Q567.8 1221.38 570.8 1221.38H625.8Q628.8 1221.38 628.8 1224.38V1424.6Z" fill="#a6a6a9"/>
<line x1="598.3" y1="1196.2" x2="598.3" y2="1223.88" stroke="#000" stroke-width="4.4"/>
<line x1="584.5" y1="1196.2" x2="612.1" y2="1196.2" stroke="#000" stroke-width="4.4"/>
<line x1="211.9" y1="1116.3" x2="211.9" y2="1426.1" stroke="#000" stroke-width="3"/>
<line x1="202.5" y1="1424.6" x2="671.6" y2="1424.6" stroke="#000" stroke-width="3"/>
<line x1="203.5" y1="1424.6" x2="211.9" y2="1424.6" stroke="#000" stroke-width="3"/>
<text class="s b" x="199.5" y="1432.5" font-size="22" text-anchor="end">0.0</text>
<line x1="203.5" y1="1347.9" x2="211.9" y2="1347.9" stroke="#000" stroke-width="3"/>
<text class="s b" x="199.5" y="1355.8" font-size="22" text-anchor="end">0.1</text>
<line x1="203.5" y1="1271.2" x2="211.9" y2="1271.2" stroke="#000" stroke-width="3"/>
<text class="s b" x="199.5" y="1279.1" font-size="22" text-anchor="end">0.2</text>
<line x1="203.5" y1="1194.5" x2="211.9" y2="1194.5" stroke="#000" stroke-width="3"/>
<text class="s b" x="199.5" y="1202.4" font-size="22" text-anchor="end">0.3</text>
<line x1="203.5" y1="1117.8" x2="211.9" y2="1117.8" stroke="#000" stroke-width="3"/>
<text class="s b" x="199.5" y="1125.7" font-size="22" text-anchor="end">0.4</text>
<line x1="325.4" y1="1424.6" x2="325.4" y2="1433.1" stroke="#000" stroke-width="3"/>
<text class="r b" x="325.4" y="1457.3" font-size="22.8" text-anchor="middle">vector</text>
<line x1="555.1" y1="1424.6" x2="555.1" y2="1433.1" stroke="#000" stroke-width="3"/>
<text class="r b" x="555.1" y="1457.3" font-size="22.8" text-anchor="middle">mex3a-OE</text>
<text class="r b" x="122.5" y="1272" font-size="25.6" text-anchor="middle" transform="rotate(-90 122.5 1272)" textLength="255" lengthAdjust="spacing">Enrichment of LAMA2</text>
<text class="r b" x="154.5" y="1271.5" font-size="25.6" text-anchor="middle" transform="rotate(-90 154.5 1271.5)" textLength="182" lengthAdjust="spacing">relative to input</text>
<rect x="253" y="1129.7" width="37.7" height="20.3" fill="#000" rx="3"/>
<rect x="253" y="1165" width="37.7" height="19.7" fill="#a6a6a9" rx="3"/>
<text class="r" x="306.5" y="1148.3" font-size="24.5">Rabbit IgG</text>
<text class="r" x="306.5" y="1183.5" font-size="24.5" letter-spacing="0.5">anti-flag</text>
<line x1="520.3" y1="1182.6" x2="598.3" y2="1182.6" stroke="#000" stroke-width="1.6"/>
<text class="s" x="560.6" y="1176.5" font-size="24" text-anchor="middle">***</text>
<path d="M1183.3 1424.8V1273.8Q1183.3 1270.8 1186.3 1270.8H1222.2Q1225.2 1270.8 1225.2 1273.8V1424.8Z" fill="#000"/>
<line x1="1204.2" y1="1223.76" x2="1204.2" y2="1273.5" stroke="#000" stroke-width="4.4"/>
<line x1="1194.7" y1="1223.76" x2="1213.7" y2="1223.76" stroke="#000" stroke-width="4.4"/>
<path d="M1240 1424.8V1324.82Q1240 1321.82 1243 1321.82H1278.9Q1281.9 1321.82 1281.9 1324.82V1424.8Z" fill="#a6a6a9"/>
<line x1="1260.9" y1="1300.68" x2="1260.9" y2="1324.52" stroke="#000" stroke-width="4.4"/>
<line x1="1251.4" y1="1300.68" x2="1270.4" y2="1300.68" stroke="#000" stroke-width="4.4"/>
<line x1="1200.2" y1="1212.7" x2="1263.2" y2="1212.7" stroke="#000" stroke-width="1.6"/>
<text class="r" x="1233.2" y="1201.6" font-size="21.5" text-anchor="middle">NS</text>
<line x1="1232.2" y1="1424.8" x2="1232.2" y2="1433.3" stroke="#000" stroke-width="3"/>
<text class="r b" x="1235.4" y="1448.8" font-size="22.5" text-anchor="end" transform="rotate(-45 1235.4 1448.8)">COL5A1</text>
<path d="M1335.4 1424.8V1273.8Q1335.4 1270.8 1338.4 1270.8H1374.3Q1377.3 1270.8 1377.3 1273.8V1424.8Z" fill="#000"/>
<line x1="1356.3" y1="1259.55" x2="1356.3" y2="1273.5" stroke="#000" stroke-width="4.4"/>
<line x1="1346.8" y1="1259.55" x2="1365.8" y2="1259.55" stroke="#000" stroke-width="4.4"/>
<path d="M1392.5 1424.8V1255.98Q1392.5 1252.98 1395.5 1252.98H1431.4Q1434.4 1252.98 1434.4 1255.98V1424.8Z" fill="#a6a6a9"/>
<line x1="1413.4" y1="1245.85" x2="1413.4" y2="1255.68" stroke="#000" stroke-width="4.4"/>
<line x1="1403.9" y1="1245.85" x2="1422.9" y2="1245.85" stroke="#000" stroke-width="4.4"/>
<line x1="1349.4" y1="1236" x2="1412.8" y2="1236" stroke="#000" stroke-width="1.6"/>
<text class="r" x="1380.3" y="1230.1" font-size="21.5" text-anchor="middle">NS</text>
<line x1="1385.2" y1="1424.8" x2="1385.2" y2="1433.3" stroke="#000" stroke-width="3"/>
<text class="r b" x="1388.4" y="1448.8" font-size="22.5" text-anchor="end" transform="rotate(-45 1388.4 1448.8)">CLDN1</text>
<path d="M1487.9 1424.8V1273.8Q1487.9 1270.8 1490.9 1270.8H1526.8Q1529.8 1270.8 1529.8 1273.8V1424.8Z" fill="#000"/>
<line x1="1508.8" y1="1235.19" x2="1508.8" y2="1273.5" stroke="#000" stroke-width="4.4"/>
<line x1="1499.3" y1="1235.19" x2="1518.3" y2="1235.19" stroke="#000" stroke-width="4.4"/>
<path d="M1544.6 1424.8V1231.92Q1544.6 1228.92 1547.6 1228.92H1583.5Q1586.5 1228.92 1586.5 1231.92V1424.8Z" fill="#a6a6a9"/>
<line x1="1565.5" y1="1203.96" x2="1565.5" y2="1231.62" stroke="#000" stroke-width="4.4"/>
<line x1="1556" y1="1203.96" x2="1575" y2="1203.96" stroke="#000" stroke-width="4.4"/>
<line x1="1502" y1="1196.2" x2="1565.4" y2="1196.2" stroke="#000" stroke-width="1.6"/>
<text class="r" x="1535.2" y="1190.4" font-size="21.5" text-anchor="middle">NS</text>
<line x1="1537.3" y1="1424.8" x2="1537.3" y2="1433.3" stroke="#000" stroke-width="3"/>
<text class="r b" x="1540.5" y="1448.8" font-size="22.5" text-anchor="end" transform="rotate(-45 1540.5 1448.8)">PIK3R3</text>
<line x1="1155.7" y1="1118.7" x2="1155.7" y2="1426.3" stroke="#000" stroke-width="3"/>
<line x1="1147" y1="1424.8" x2="1614.8" y2="1424.8" stroke="#000" stroke-width="3"/>
<line x1="1147.3" y1="1424.8" x2="1155.7" y2="1424.8" stroke="#000" stroke-width="3"/>
<text class="s b" x="1144.8" y="1432.7" font-size="22" text-anchor="end">0.0</text>
<line x1="1147.3" y1="1348.65" x2="1155.7" y2="1348.65" stroke="#000" stroke-width="3"/>
<text class="s b" x="1144.8" y="1356.55" font-size="22" text-anchor="end">0.5</text>
<line x1="1147.3" y1="1272.5" x2="1155.7" y2="1272.5" stroke="#000" stroke-width="3"/>
<text class="s b" x="1144.8" y="1280.4" font-size="22" text-anchor="end">1.0</text>
<line x1="1147.3" y1="1196.35" x2="1155.7" y2="1196.35" stroke="#000" stroke-width="3"/>
<text class="s b" x="1144.8" y="1204.25" font-size="22" text-anchor="end">1.5</text>
<line x1="1147.3" y1="1120.2" x2="1155.7" y2="1120.2" stroke="#000" stroke-width="3"/>
<text class="s b" x="1144.8" y="1128.1" font-size="22" text-anchor="end">2.0</text>
<text class="r b" x="1067" y="1271.5" font-size="25.6" text-anchor="middle" transform="rotate(-90 1067 1271.5)" textLength="228" lengthAdjust="spacing">Enrichment of genes</text>
<text class="r b" x="1097.5" y="1271.5" font-size="25.6" text-anchor="middle" transform="rotate(-90 1097.5 1271.5)" textLength="182" lengthAdjust="spacing">relative to input</text>
<rect x="1177.5" y="1116.8" width="37.8" height="20.9" fill="#000" rx="3"/>
<rect x="1177.5" y="1152.2" width="37.8" height="20.3" fill="#a6a6a9" rx="3"/>
<text class="r" x="1231" y="1135.7" font-size="24.5">Rabbit IgG</text>
<text class="r" x="1231" y="1170.1" font-size="24.5" letter-spacing="0.35">anti-flag</text>
<polyline points="219.1,1641.4 307.65,1852 396.2,1872.4 573.3,1887" fill="none" stroke="#000" stroke-width="3" stroke-linejoin="round"/>
<polyline points="219.1,1641.4 307.65,1773.6 396.2,1858.4 573.3,1885.3" fill="none" stroke="#000" stroke-width="3" stroke-linejoin="round"/>
<rect x="226" y="1729.3" width="120" height="21" fill="#fff"/>
<circle cx="307.65" cy="1852" r="5.6" fill="#000"/>
<circle cx="396.2" cy="1872.4" r="5.6" fill="#000"/>
<circle cx="573.3" cy="1887" r="5.6" fill="#000"/>
<rect x="212.9" y="1635.2" width="12.4" height="12.4" fill="#000"/>
<rect x="301.45" y="1767.4" width="12.4" height="12.4" fill="#000"/>
<rect x="390" y="1852.2" width="12.4" height="12.4" fill="#000"/>
<rect x="567.1" y="1879.1" width="12.4" height="12.4" fill="#000"/>
<line x1="219.1" y1="1590.8" x2="219.1" y2="1728.7" stroke="#000" stroke-width="3"/>
<line x1="219.1" y1="1750.8" x2="219.1" y2="1889.1" stroke="#000" stroke-width="3"/>
<line x1="211.5" y1="1728.7" x2="225.5" y2="1728.7" stroke="#000" stroke-width="3"/>
<line x1="211.5" y1="1750.8" x2="225.5" y2="1750.8" stroke="#000" stroke-width="3"/>
<line x1="217.6" y1="1887.6" x2="663.5" y2="1887.6" stroke="#000" stroke-width="3"/>
<line x1="210.8" y1="1592.3" x2="219.1" y2="1592.3" stroke="#000" stroke-width="3"/>
<text class="s b" x="207.5" y="1600.2" font-size="22" text-anchor="end">1.5</text>
<line x1="210.8" y1="1641.4" x2="219.1" y2="1641.4" stroke="#000" stroke-width="3"/>
<text class="s b" x="207.5" y="1649.3" font-size="22" text-anchor="end">1.0</text>
<line x1="210.8" y1="1690.2" x2="219.1" y2="1690.2" stroke="#000" stroke-width="3"/>
<text class="s b" x="207.5" y="1698.1" font-size="22" text-anchor="end">0.5</text>
<line x1="210.8" y1="1887.6" x2="219.1" y2="1887.6" stroke="#000" stroke-width="3"/>
<text class="s b" x="207.5" y="1895.5" font-size="22" text-anchor="end">0.00</text>
<line x1="210.8" y1="1860.24" x2="219.1" y2="1860.24" stroke="#000" stroke-width="3"/>
<text class="s b" x="207.5" y="1868.14" font-size="22" text-anchor="end">0.02</text>
<line x1="210.8" y1="1832.88" x2="219.1" y2="1832.88" stroke="#000" stroke-width="3"/>
<text class="s b" x="207.5" y="1840.78" font-size="22" text-anchor="end">0.04</text>
<line x1="210.8" y1="1805.52" x2="219.1" y2="1805.52" stroke="#000" stroke-width="3"/>
<text class="s b" x="207.5" y="1813.42" font-size="22" text-anchor="end">0.06</text>
<line x1="210.8" y1="1778.16" x2="219.1" y2="1778.16" stroke="#000" stroke-width="3"/>
<text class="s b" x="207.5" y="1786.06" font-size="22" text-anchor="end">0.08</text>
<text class="s b" x="207.5" y="1758.7" font-size="22" text-anchor="end">0.10</text>
<line x1="219.1" y1="1887.6" x2="219.1" y2="1896.1" stroke="#000" stroke-width="3"/>
<text class="s b" x="219.1" y="1921.5" font-size="22" text-anchor="middle">0</text>
<line x1="307.65" y1="1887.6" x2="307.65" y2="1896.1" stroke="#000" stroke-width="3"/>
<text class="s b" x="307.65" y="1921.5" font-size="22" text-anchor="middle">1</text>
<line x1="396.2" y1="1887.6" x2="396.2" y2="1896.1" stroke="#000" stroke-width="3"/>
<text class="s b" x="396.2" y="1921.5" font-size="22" text-anchor="middle">2</text>
<line x1="484.75" y1="1887.6" x2="484.75" y2="1896.1" stroke="#000" stroke-width="3"/>
<text class="s b" x="484.75" y="1921.5" font-size="22" text-anchor="middle">3</text>
<line x1="573.3" y1="1887.6" x2="573.3" y2="1896.1" stroke="#000" stroke-width="3"/>
<text class="s b" x="573.3" y="1921.5" font-size="22" text-anchor="middle">4</text>
<line x1="661.85" y1="1887.6" x2="661.85" y2="1896.1" stroke="#000" stroke-width="3"/>
<text class="s b" x="661.85" y="1921.5" font-size="22" text-anchor="middle">5</text>
<text class="r b" x="442" y="1952.7" font-size="25" text-anchor="middle" textLength="286" lengthAdjust="spacing">Time(h) after Actinomycin</text>
<text class="r b" x="121.5" y="1739.5" font-size="25" text-anchor="middle" transform="rotate(-90 121.5 1739.5)" textLength="409" lengthAdjust="spacing">Relative expression of LAMA2 mRNA</text>
<line x1="512.7" y1="1601.6" x2="543.6" y2="1601.6" stroke="#000" stroke-width="3"/>
<circle cx="528.1" cy="1601.6" r="5.6" fill="#000"/>
<line x1="512.7" y1="1634.7" x2="543.6" y2="1634.7" stroke="#000" stroke-width="3"/>
<rect x="521.9" y="1628.5" width="12.4" height="12.4" fill="#000"/>
<text class="r" x="561.4" y="1608.6" font-size="24.8">shNC</text>
<text class="r" x="561.4" y="1642.3" font-size="24.8">shmex3a</text>
<text class="s" x="311.4" y="1758.5" font-size="25" text-anchor="middle">**</text>
<text class="s" x="396.2" y="1843.5" font-size="25" text-anchor="middle">*</text>
<text class="s" x="571.2" y="1869" font-size="25" text-anchor="middle">**</text>
<polyline points="227.5,2219.4 316.05,2192.3 404.6,2368.1 581.7,2383.4" fill="none" stroke="#000" stroke-width="3" stroke-linejoin="round"/>
<polyline points="227.5,2219.4 316.05,2251.6 404.6,2416.4 581.7,2413.5" fill="none" stroke="#000" stroke-width="3" stroke-linejoin="round"/>
<rect x="300" y="2265.3" width="90" height="20.5" fill="#fff"/>
<circle cx="316.05" cy="2192.3" r="5.6" fill="#000"/>
<circle cx="404.6" cy="2368.1" r="5.6" fill="#000"/>
<circle cx="581.7" cy="2383.4" r="5.6" fill="#000"/>
<rect x="221.3" y="2213.2" width="12.4" height="12.4" fill="#000"/>
<rect x="309.85" y="2245.4" width="12.4" height="12.4" fill="#000"/>
<rect x="398.4" y="2410.2" width="12.4" height="12.4" fill="#000"/>
<rect x="575.5" y="2407.3" width="12.4" height="12.4" fill="#000"/>
<line x1="227.5" y1="2127" x2="227.5" y2="2264.7" stroke="#000" stroke-width="3"/>
<line x1="227.5" y1="2286.4" x2="227.5" y2="2425.1" stroke="#000" stroke-width="3"/>
<line x1="220" y1="2264.7" x2="234" y2="2264.7" stroke="#000" stroke-width="3"/>
<line x1="220" y1="2286.4" x2="234" y2="2286.4" stroke="#000" stroke-width="3"/>
<line x1="226" y1="2423.6" x2="671.8" y2="2423.6" stroke="#000" stroke-width="3"/>
<line x1="219.2" y1="2146.5" x2="227.5" y2="2146.5" stroke="#000" stroke-width="3"/>
<text class="s b" x="216" y="2154.4" font-size="22" text-anchor="end">1.4</text>
<line x1="219.2" y1="2183" x2="227.5" y2="2183" stroke="#000" stroke-width="3"/>
<text class="s b" x="216" y="2190.9" font-size="22" text-anchor="end">1.2</text>
<line x1="219.2" y1="2219.4" x2="227.5" y2="2219.4" stroke="#000" stroke-width="3"/>
<text class="s b" x="216" y="2227.3" font-size="22" text-anchor="end">1.0</text>
<line x1="219.2" y1="2255.4" x2="227.5" y2="2255.4" stroke="#000" stroke-width="3"/>
<text class="s b" x="216" y="2263.3" font-size="22" text-anchor="end">0.8</text>
<text class="s b" x="216" y="2294.3" font-size="22" text-anchor="end">0.00006</text>
<line x1="219.2" y1="2333" x2="227.5" y2="2333" stroke="#000" stroke-width="3"/>
<text class="s b" x="216" y="2340.9" font-size="22" text-anchor="end">0.00004</text>
<line x1="219.2" y1="2379.6" x2="227.5" y2="2379.6" stroke="#000" stroke-width="3"/>
<text class="s b" x="216" y="2387.5" font-size="22" text-anchor="end">0.00002</text>
<line x1="227.5" y1="2423.6" x2="227.5" y2="2432.1" stroke="#000" stroke-width="3"/>
<text class="s b" x="227.5" y="2457.5" font-size="22" text-anchor="middle">0</text>
<line x1="316.05" y1="2423.6" x2="316.05" y2="2432.1" stroke="#000" stroke-width="3"/>
<text class="s b" x="316.05" y="2457.5" font-size="22" text-anchor="middle">1</text>
<line x1="404.6" y1="2423.6" x2="404.6" y2="2432.1" stroke="#000" stroke-width="3"/>
<text class="s b" x="404.6" y="2457.5" font-size="22" text-anchor="middle">2</text>
<line x1="493.15" y1="2423.6" x2="493.15" y2="2432.1" stroke="#000" stroke-width="3"/>
<text class="s b" x="493.15" y="2457.5" font-size="22" text-anchor="middle">3</text>
<line x1="581.7" y1="2423.6" x2="581.7" y2="2432.1" stroke="#000" stroke-width="3"/>
<text class="s b" x="581.7" y="2457.5" font-size="22" text-anchor="middle">4</text>
<line x1="670.25" y1="2423.6" x2="670.25" y2="2432.1" stroke="#000" stroke-width="3"/>
<text class="s b" x="670.25" y="2457.5" font-size="22" text-anchor="middle">5</text>
<text class="r b" x="449.2" y="2489" font-size="25" text-anchor="middle" textLength="286" lengthAdjust="spacing">Time(h) after Actinomycin</text>
<text class="r b" x="94" y="2275" font-size="25" text-anchor="middle" transform="rotate(-90 94 2275)" textLength="409" lengthAdjust="spacing">Relative expression of LAMA2 mRNA</text>
<line x1="503" y1="2133" x2="533.9" y2="2133" stroke="#000" stroke-width="3"/>
<circle cx="518.4" cy="2133" r="5.6" fill="#000"/>
<line x1="503" y1="2166.9" x2="533.9" y2="2166.9" stroke="#000" stroke-width="3"/>
<rect x="512.2" y="2160.7" width="12.4" height="12.4" fill="#000"/>
<text class="r" x="552.1" y="2141.9" font-size="24.8">vector</text>
<text class="r" x="552.1" y="2174.9" font-size="24.8">Mex3a-OE</text>
<text class="s" x="407.6" y="2350" font-size="25" text-anchor="middle">*</text>
<text class="s" x="580.5" y="2373.3" font-size="25" text-anchor="middle">*</text>
<text class="r" x="1082.4" y="1635.8" font-size="48.5" text-anchor="middle">H1299</text>
<text class="r" x="1372.7" y="1635.8" font-size="48.5" text-anchor="middle">A549</text>
<text class="r" x="1680.9" y="1635.8" font-size="48.5" text-anchor="middle">PC9</text>
<line x1="936.6" y1="1642.6" x2="1214.2" y2="1642.6" stroke="#000" stroke-width="2"/>
<line x1="1235.5" y1="1642.6" x2="1512.9" y2="1642.6" stroke="#000" stroke-width="2"/>
<line x1="1533.3" y1="1642.6" x2="1811" y2="1642.6" stroke="#000" stroke-width="2"/>
<text class="r" x="967.5" y="1677.4" font-size="35">shNC</text>
<text class="r" x="1091.5" y="1677.4" font-size="35">shmex3a</text>
<text class="r" x="1259.9" y="1677.4" font-size="35">shNC</text>
<text class="r" x="1392.4" y="1677.4" font-size="35">shmex3a</text>
<text class="r" x="1561.1" y="1677.4" font-size="35">vector</text>
<text class="r" x="1675" y="1677.4" font-size="35">mex3a-OE</text>
<text class="r" x="740" y="1763.4" font-size="33.3">LAMA2</text>
<text class="r" x="740" y="1803.4" font-size="33.3">344KD</text>
<text class="r" x="736.6" y="1861" font-size="33.3">PI3K(110α)</text>
<text class="r" x="736.6" y="1900.7" font-size="33.3">110KD</text>
<text class="r" x="744" y="1963.4" font-size="33.3">Mex3a</text>
<text class="r" x="744" y="2004" font-size="33.3">54KD</text>
<text class="r" x="744" y="2062.7" font-size="33.3">pAKT</text>
<text class="r" x="744" y="2103" font-size="33.3">60KD</text>
<text class="r" x="744" y="2161.7" font-size="33.3">AKT</text>
<text class="r" x="744" y="2201.7" font-size="33.3">60KD</text>
<text class="r" x="747.5" y="2256.6" font-size="33.3">GAPDH</text>
<text class="r" x="747.5" y="2297.3" font-size="33.3">37KD</text>
<rect x="946.15" y="1706.75" width="268.7" height="73.2" fill="url(#lb1)"/>
<g clip-path="url(#cb1)">
<ellipse cx="1011.9" cy="1742.4" rx="44" ry="5.95" fill="#120834" opacity="0.52" filter="url(#gb3)" transform="rotate(-1 1011.9 1742.4)"/>
<rect x="972.4" y="1739.4" width="79" height="6" rx="13.2" ry="3" fill="#120834" opacity="0.95" filter="url(#gb2)" transform="rotate(-1 1011.9 1742.4)"/>
<ellipse cx="1154.2" cy="1749.8" rx="52" ry="12.2" fill="#05000f" opacity="0.55" filter="url(#gb3)" transform="rotate(2 1154.2 1749.8)"/>
<rect x="1106.7" y="1740.55" width="95" height="18.5" rx="20.9" ry="9.25" fill="#05000f" opacity="1" filter="url(#gb2)" transform="rotate(2 1154.2 1749.8)"/>
</g>
<rect x="946.15" y="1706.75" width="268.7" height="73.2" fill="none" stroke="#000" stroke-width="7.5" rx="1" stroke-linejoin="round"/>
<rect x="943.75" y="1807.15" width="270.5" height="69.4" fill="url(#lb2)"/>
<g clip-path="url(#cb2)">
<ellipse cx="1025" cy="1853" rx="75" ry="15" fill="#888" opacity="0.3" filter="url(#gb4)"/>
<ellipse cx="1150" cy="1848" rx="65" ry="13" fill="#999" opacity="0.2" filter="url(#gb4)"/>
<ellipse cx="1017" cy="1838.6" rx="58" ry="8.2" fill="#000" opacity="0.55" filter="url(#gb3)"/>
<rect x="963.5" y="1833.35" width="107" height="10.5" rx="23.1" ry="5.25" fill="#000" opacity="1" filter="url(#gb2)"/>
<ellipse cx="1150.8" cy="1832.2" rx="58" ry="5.45" fill="#000" opacity="0.52" filter="url(#gb3)" transform="rotate(-2 1150.8 1832.2)"/>
<rect x="1097.3" y="1829.7" width="107" height="5" rx="11" ry="2.5" fill="#000" opacity="0.95" filter="url(#gb2)" transform="rotate(-2 1150.8 1832.2)"/>
</g>
<rect x="943.75" y="1807.15" width="270.5" height="69.4" fill="none" stroke="#000" stroke-width="7.5" rx="1" stroke-linejoin="round"/>
<rect x="945.15" y="1906.15" width="269.7" height="67.7" fill="#d2d2d2"/>
<g clip-path="url(#cb3)">
<ellipse cx="1011.9" cy="1955" rx="57" ry="11.2" fill="#000" opacity="0.55" filter="url(#gb3)"/>
<rect x="959.4" y="1946.75" width="105" height="16.5" rx="23.1" ry="8.25" fill="#000" opacity="1" filter="url(#gb2)"/>
<ellipse cx="1140.7" cy="1946.4" rx="41" ry="5.2" fill="#777" opacity="0.44" filter="url(#gb3)" transform="rotate(-3 1140.7 1946.4)"/>
<rect x="1104.2" y="1944.15" width="73" height="4.5" rx="9.9" ry="2.25" fill="#777" opacity="0.8" filter="url(#gb2)" transform="rotate(-3 1140.7 1946.4)"/>
</g>
<rect x="945.15" y="1906.15" width="269.7" height="67.7" fill="none" stroke="#000" stroke-width="7.5" rx="1" stroke-linejoin="round"/>
<rect x="945.15" y="2005.15" width="269.7" height="72.5" fill="url(#lb4)"/>
<g clip-path="url(#cb4)">
<ellipse cx="1001.7" cy="2026" rx="56" ry="5.7" fill="#222" opacity="0.5" filter="url(#gb3)" transform="rotate(4 1001.7 2026)"/>
<rect x="950.2" y="2023.25" width="103" height="5.5" rx="12.1" ry="2.75" fill="#222" opacity="0.9" filter="url(#gb2)" transform="rotate(4 1001.7 2026)"/>
<ellipse cx="1137" cy="2036" rx="52" ry="5.2" fill="#888" opacity="0.33" filter="url(#gb3)" transform="rotate(3 1137 2036)"/>
<rect x="1089.5" y="2033.75" width="95" height="4.5" rx="9.9" ry="2.25" fill="#888" opacity="0.6" filter="url(#gb3)" transform="rotate(3 1137 2036)"/>
</g>
<rect x="945.15" y="2005.15" width="269.7" height="72.5" fill="none" stroke="#000" stroke-width="7.5" rx="1" stroke-linejoin="round"/>
<rect x="947.15" y="2106.75" width="270.1" height="73.2" fill="url(#lb5)"/>
<g clip-path="url(#cb5)">
<ellipse cx="1013.6" cy="2136.3" rx="48" ry="9.2" fill="#000" opacity="0.55" filter="url(#gb3)"/>
<rect x="970.1" y="2130.05" width="87" height="12.5" rx="19.14" ry="6.25" fill="#000" opacity="1" filter="url(#gb2)"/>
<ellipse cx="1144" cy="2142.4" rx="50" ry="9.2" fill="#000" opacity="0.55" filter="url(#gb3)" transform="rotate(2 1144 2142.4)"/>
<rect x="1098.5" y="2136.15" width="91" height="12.5" rx="20.02" ry="6.25" fill="#000" opacity="1" filter="url(#gb2)" transform="rotate(2 1144 2142.4)"/>
</g>
<rect x="947.15" y="2106.75" width="270.1" height="73.2" fill="none" stroke="#000" stroke-width="7.5" rx="1" stroke-linejoin="round"/>
<rect x="943.75" y="2202.75" width="270.5" height="73.2" fill="url(#lb6)"/>
<g clip-path="url(#cb6)">
<ellipse cx="1023.7" cy="2232.2" rx="55" ry="9.7" fill="#000" opacity="0.55" filter="url(#gb3)"/>
<rect x="973.2" y="2225.45" width="101" height="13.5" rx="22.22" ry="6.75" fill="#000" opacity="1" filter="url(#gb2)"/>
<ellipse cx="1147.5" cy="2234" rx="52" ry="8.2" fill="#000" opacity="0.55" filter="url(#gb3)"/>
<rect x="1100" y="2228.75" width="95" height="10.5" rx="20.9" ry="5.25" fill="#000" opacity="1" filter="url(#gb2)"/>
</g>
<rect x="943.75" y="2202.75" width="270.5" height="73.2" fill="none" stroke="#000" stroke-width="7.5" rx="1" stroke-linejoin="round"/>
<rect x="1245.05" y="1707.75" width="268.7" height="72.5" fill="#ececf0"/>
<g clip-path="url(#cb7)">
<ellipse cx="1302.4" cy="1735.7" rx="48" ry="14.7" fill="#000" opacity="0.55" filter="url(#gb3)"/>
<rect x="1258.9" y="1723.95" width="87" height="23.5" rx="19.14" ry="11.75" fill="#000" opacity="1" filter="url(#gb2)"/>
<ellipse cx="1431.7" cy="1741.5" rx="59" ry="23.2" fill="#000" opacity="0.55" filter="url(#gb3)"/>
<rect x="1377.2" y="1721.25" width="109" height="40.5" rx="23.98" ry="20.25" fill="#000" opacity="1" filter="url(#gb2)"/>
</g>
<rect x="1245.05" y="1707.75" width="268.7" height="72.5" fill="none" stroke="#000" stroke-width="7.5" rx="1" stroke-linejoin="round"/>
<rect x="1243.95" y="1805.95" width="269.8" height="72" fill="#d2d2d2"/>
<g clip-path="url(#cb8)">
<ellipse cx="1310" cy="1836.2" rx="45" ry="6.2" fill="#222" opacity="0.5" filter="url(#gb3)"/>
<rect x="1269.5" y="1832.95" width="81" height="6.5" rx="14.3" ry="3.25" fill="#222" opacity="0.9" filter="url(#gb2)"/>
<ellipse cx="1431.7" cy="1835" rx="47" ry="5.2" fill="#555" opacity="0.33" filter="url(#gb3)"/>
<rect x="1389.2" y="1832.75" width="85" height="4.5" rx="9.9" ry="2.25" fill="#555" opacity="0.6" filter="url(#gb2)"/>
</g>
<rect x="1243.95" y="1805.95" width="269.8" height="72" fill="none" stroke="#000" stroke-width="7.5" rx="1" stroke-linejoin="round"/>
<rect x="1244.35" y="1902.75" width="267.9" height="68.7" fill="url(#lb9)"/>
<g clip-path="url(#cb9)">
<ellipse cx="1302.4" cy="1940.5" rx="54" ry="13.7" fill="#000" opacity="0.55" filter="url(#gb3)"/>
<rect x="1252.9" y="1929.75" width="99" height="21.5" rx="21.78" ry="10.75" fill="#000" opacity="1" filter="url(#gb2)"/>
<ellipse cx="1431.7" cy="1944.3" rx="50" ry="6.2" fill="#333" opacity="0.41" filter="url(#gb3)"/>
<rect x="1386.2" y="1941.05" width="91" height="6.5" rx="14.3" ry="3.25" fill="#333" opacity="0.75" filter="url(#gb2)"/>
</g>
<rect x="1244.35" y="1902.75" width="267.9" height="68.7" fill="none" stroke="#000" stroke-width="7.5" rx="1" stroke-linejoin="round"/>
<rect x="1243.95" y="2005.45" width="267.1" height="73.6" fill="#fdfdfd"/>
<g clip-path="url(#cb10)">
<ellipse cx="1380" cy="2062" rx="140" ry="18" fill="#999" opacity="0.3" filter="url(#gb4)"/>
<ellipse cx="1310" cy="2050.8" rx="52" ry="6.7" fill="#0a0a0a" opacity="0.55" filter="url(#gb3)"/>
<rect x="1262.5" y="2047.05" width="95" height="7.5" rx="16.5" ry="3.75" fill="#0a0a0a" opacity="1" filter="url(#gb2)"/>
<ellipse cx="1437.5" cy="2052" rx="52" ry="5.2" fill="#333" opacity="0.44" filter="url(#gb3)" transform="rotate(1 1437.5 2052)"/>
<rect x="1390" y="2049.75" width="95" height="4.5" rx="9.9" ry="2.25" fill="#333" opacity="0.8" filter="url(#gb2)" transform="rotate(1 1437.5 2052)"/>
</g>
<rect x="1243.95" y="2005.45" width="267.1" height="73.6" fill="none" stroke="#000" stroke-width="7.5" rx="1" stroke-linejoin="round"/>
<rect x="1244.35" y="2104.75" width="266.7" height="74.4" fill="url(#lb11)"/>
<g clip-path="url(#cb11)">
<ellipse cx="1304.3" cy="2131.1" rx="48" ry="10.7" fill="#000" opacity="0.55" filter="url(#gb3)"/>
<rect x="1260.8" y="2123.35" width="87" height="15.5" rx="19.14" ry="7.75" fill="#000" opacity="1" filter="url(#gb2)"/>
<ellipse cx="1435.6" cy="2136.9" rx="50" ry="13.2" fill="#000" opacity="0.55" filter="url(#gb3)"/>
<rect x="1390.1" y="2126.65" width="91" height="20.5" rx="20.02" ry="10.25" fill="#000" opacity="1" filter="url(#gb2)"/>
</g>
<rect x="1244.35" y="2104.75" width="266.7" height="74.4" fill="none" stroke="#000" stroke-width="7.5" rx="1" stroke-linejoin="round"/>
<rect x="1243.55" y="2202.45" width="266.7" height="73.6" fill="url(#lb12)"/>
<g clip-path="url(#cb12)">
<ellipse cx="1327.5" cy="2233.5" rx="42" ry="9.2" fill="#0a0a0a" opacity="0.52" filter="url(#gb3)"/>
<rect x="1290" y="2227.25" width="75" height="12.5" rx="16.5" ry="6.25" fill="#0a0a0a" opacity="0.95" filter="url(#gb3)"/>
<ellipse cx="1433.7" cy="2237.3" rx="43" ry="10.2" fill="#0a0a0a" opacity="0.52" filter="url(#gb3)" transform="rotate(3 1433.7 2237.3)"/>
<rect x="1395.2" y="2230.05" width="77" height="14.5" rx="16.94" ry="7.25" fill="#0a0a0a" opacity="0.95" filter="url(#gb3)" transform="rotate(3 1433.7 2237.3)"/>
</g>
<rect x="1243.55" y="2202.45" width="266.7" height="73.6" fill="none" stroke="#000" stroke-width="7.5" rx="1" stroke-linejoin="round"/>
<rect x="1542.85" y="1705.85" width="268.3" height="73.3" fill="url(#lb13)"/>
<g clip-path="url(#cb13)">
<ellipse cx="1605.6" cy="1735.7" rx="51" ry="12.7" fill="#05000f" opacity="0.55" filter="url(#gb3)"/>
<rect x="1559.1" y="1725.95" width="93" height="19.5" rx="20.46" ry="9.75" fill="#05000f" opacity="1" filter="url(#gb2)"/>
<ellipse cx="1736.9" cy="1728" rx="47" ry="6.2" fill="#403058" opacity="0.39" filter="url(#gb3)" transform="rotate(-3 1736.9 1728)"/>
<rect x="1694.4" y="1724.75" width="85" height="6.5" rx="14.3" ry="3.25" fill="#403058" opacity="0.7" filter="url(#gb3)" transform="rotate(-3 1736.9 1728)"/>
</g>
<rect x="1542.85" y="1705.85" width="268.3" height="73.3" fill="none" stroke="#000" stroke-width="7.5" rx="1" stroke-linejoin="round"/>
<rect x="1542.85" y="1807.05" width="268.3" height="73.6" fill="url(#lb14)"/>
<g clip-path="url(#cb14)">
<ellipse cx="1740" cy="1852" rx="60" ry="15" fill="#888" opacity="0.3" filter="url(#gb4)"/>
<ellipse cx="1601.7" cy="1838.1" rx="58" ry="5.7" fill="#000" opacity="0.55" filter="url(#gb3)" transform="rotate(-1 1601.7 1838.1)"/>
<rect x="1548.2" y="1835.35" width="107" height="5.5" rx="12.1" ry="2.75" fill="#000" opacity="1" filter="url(#gb2)" transform="rotate(-1 1601.7 1838.1)"/>
<ellipse cx="1740.7" cy="1832.3" rx="66" ry="8.2" fill="#000" opacity="0.55" filter="url(#gb3)" transform="rotate(-2 1740.7 1832.3)"/>
<rect x="1679.2" y="1827.05" width="123" height="10.5" rx="23.1" ry="5.25" fill="#000" opacity="1" filter="url(#gb2)" transform="rotate(-2 1740.7 1832.3)"/>
</g>
<rect x="1542.85" y="1807.05" width="268.3" height="73.6" fill="none" stroke="#000" stroke-width="7.5" rx="1" stroke-linejoin="round"/>
<rect x="1542.15" y="1903.65" width="269.8" height="69.7" fill="#d8d8d8"/>
<g clip-path="url(#cb15)">
<ellipse cx="1605.6" cy="1947.4" rx="49" ry="7.2" fill="#333" opacity="0.47" filter="url(#gb3)" transform="rotate(2 1605.6 1947.4)"/>
<rect x="1561.1" y="1943.15" width="89" height="8.5" rx="18.7" ry="4.25" fill="#333" opacity="0.85" filter="url(#gb2)" transform="rotate(2 1605.6 1947.4)"/>
<ellipse cx="1736.9" cy="1954.7" rx="57" ry="10.2" fill="#080808" opacity="0.55" filter="url(#gb3)"/>
<rect x="1684.4" y="1947.45" width="105" height="14.5" rx="23.1" ry="7.25" fill="#080808" opacity="1" filter="url(#gb2)"/>
</g>
<rect x="1542.15" y="1903.65" width="269.8" height="69.7" fill="none" stroke="#000" stroke-width="7.5" rx="1" stroke-linejoin="round"/>
<rect x="1542.85" y="2005.45" width="268.3" height="73.2" fill="#f6f6f6"/>
<g clip-path="url(#cb16)">
<ellipse cx="1621" cy="2040.3" rx="60" ry="9.7" fill="#222" opacity="0.5" filter="url(#gb3)"/>
<rect x="1565.5" y="2033.55" width="111" height="13.5" rx="24.42" ry="6.75" fill="#222" opacity="0.9" filter="url(#gb3)"/>
<ellipse cx="1750.4" cy="2038.4" rx="59" ry="12.2" fill="#050505" opacity="0.55" filter="url(#gb3)"/>
<rect x="1695.9" y="2029.15" width="109" height="18.5" rx="23.98" ry="9.25" fill="#050505" opacity="1" filter="url(#gb3)"/>
</g>
<rect x="1542.85" y="2005.45" width="268.3" height="73.2" fill="none" stroke="#000" stroke-width="7.5" rx="1" stroke-linejoin="round"/>
<rect x="1542.85" y="2104.75" width="266.8" height="74.4" fill="url(#lb17)"/>
<g clip-path="url(#cb17)">
<ellipse cx="1601.7" cy="2139.6" rx="56" ry="12.2" fill="#000" opacity="0.55" filter="url(#gb3)" transform="rotate(2 1601.7 2139.6)"/>
<rect x="1550.2" y="2130.35" width="103" height="18.5" rx="22.66" ry="9.25" fill="#000" opacity="1" filter="url(#gb2)" transform="rotate(2 1601.7 2139.6)"/>
<ellipse cx="1735" cy="2146.2" rx="51" ry="11.2" fill="#000" opacity="0.55" filter="url(#gb3)"/>
<rect x="1688.5" y="2137.95" width="93" height="16.5" rx="20.46" ry="8.25" fill="#000" opacity="1" filter="url(#gb2)"/>
</g>
<rect x="1542.85" y="2104.75" width="266.8" height="74.4" fill="none" stroke="#000" stroke-width="7.5" rx="1" stroke-linejoin="round"/>
<rect x="1542.15" y="2203.95" width="269.8" height="71.7" fill="url(#lb18)"/>
<g clip-path="url(#cb18)">
<ellipse cx="1623" cy="2239.6" rx="54" ry="10.2" fill="#000" opacity="0.55" filter="url(#gb3)"/>
<rect x="1573.5" y="2232.35" width="99" height="14.5" rx="21.78" ry="7.25" fill="#000" opacity="1" filter="url(#gb2)"/>
<ellipse cx="1735" cy="2241.2" rx="48" ry="11.7" fill="#000" opacity="0.55" filter="url(#gb3)"/>
<rect x="1691.5" y="2232.45" width="87" height="17.5" rx="19.14" ry="8.75" fill="#000" opacity="1" filter="url(#gb2)"/>
</g>
<rect x="1542.15" y="2203.95" width="269.8" height="71.7" fill="none" stroke="#000" stroke-width="7.5" rx="1" stroke-linejoin="round"/>
</svg>
</body></html>
